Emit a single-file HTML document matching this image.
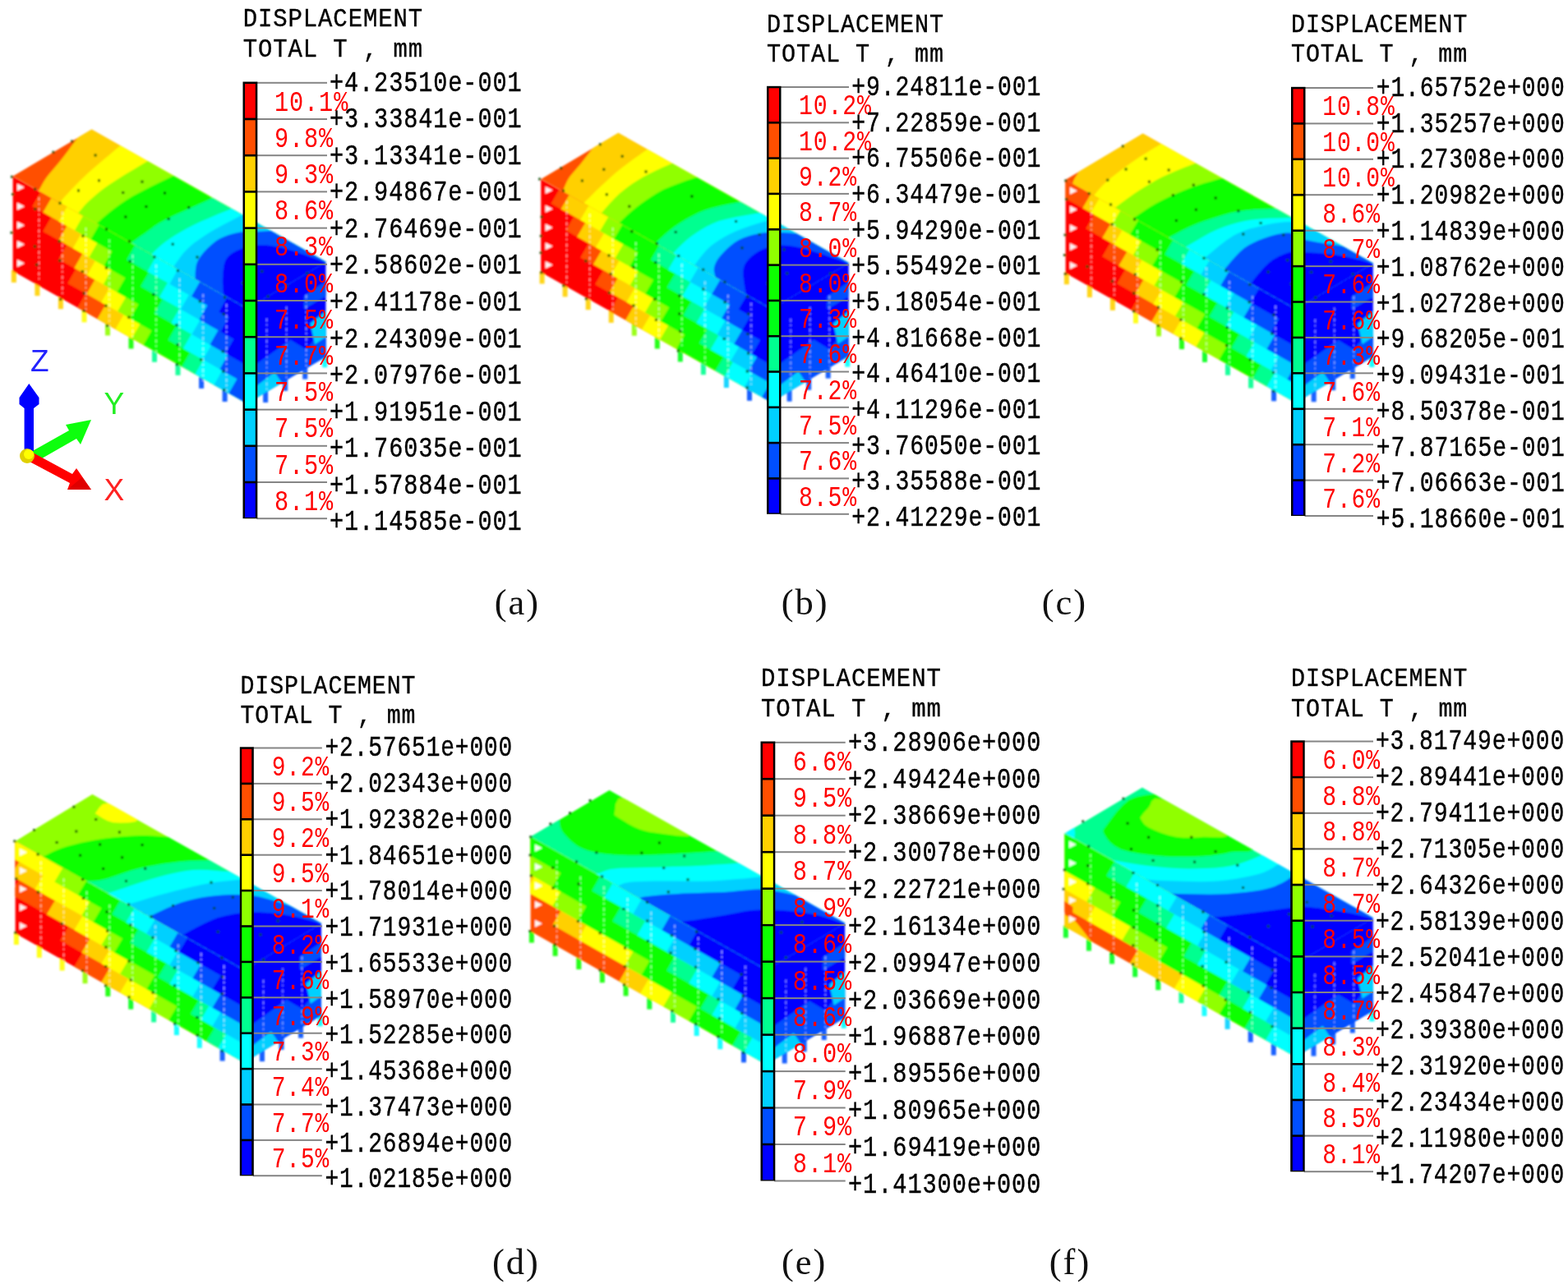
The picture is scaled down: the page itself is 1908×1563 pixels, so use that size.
<!DOCTYPE html>
<html lang="en"><head><meta charset="utf-8"><title>Displacement contours</title>
<style>html,body{margin:0;padding:0;background:#fff;}svg{display:block;}text{font-family:"Liberation Mono",monospace;white-space:pre;}text.s{font-family:"Liberation Serif","Times New Roman",serif;}text.a{font-family:"Liberation Sans",Arial,sans-serif;}</style></head><body>
<svg width="1908" height="1563" viewBox="0 0 1908 1563">
<rect width="1908" height="1563" fill="#fff"/>
<defs>
<filter id="bl" x="-5%" y="-5%" width="110%" height="110%"><feGaussianBlur stdDeviation="1.2"/></filter>
<filter id="bt" x="-5%" y="-5%" width="110%" height="110%"><feGaussianBlur stdDeviation="0.6"/></filter>
<clipPath id="ra"><polygon points="15.4,214.6 111.5,157.6 396.7,318.8 300.6,375.8"/></clipPath>
<clipPath id="fa"><polygon points="15.4,214.6 300.6,375.8 300.6,491.3 15.4,330.1"/></clipPath>
<clipPath id="ea"><polygon points="300.6,375.8 396.7,318.8 396.7,434.3 300.6,491.3"/></clipPath>
<clipPath id="rb"><polygon points="658.1,218 752.4,161.8 1032.8,320 938.5,376.2"/></clipPath>
<clipPath id="fb"><polygon points="658.1,218 938.5,376.2 938.5,489.8 658.1,331.6"/></clipPath>
<clipPath id="eb"><polygon points="938.5,376.2 1032.8,320 1032.8,433.6 938.5,489.8"/></clipPath>
<clipPath id="rc"><polygon points="1296.4,218.8 1390.7,162.6 1670.9,320.4 1576.6,376.6"/></clipPath>
<clipPath id="fc"><polygon points="1296.4,218.8 1576.6,376.6 1576.6,490.2 1296.4,332.4"/></clipPath>
<clipPath id="ec"><polygon points="1576.6,376.6 1670.9,320.4 1670.9,434 1576.6,490.2"/></clipPath>
<clipPath id="rd"><polygon points="18.4,1023.9 112.4,966.8 391,1124 297,1181.1"/></clipPath>
<clipPath id="fd"><polygon points="18.4,1023.9 297,1181.1 297,1293.4 18.4,1136.2"/></clipPath>
<clipPath id="ed"><polygon points="297,1181.1 391,1124 391,1236.3 297,1293.4"/></clipPath>
<clipPath id="re"><polygon points="645.4,1018.8 741.5,961.8 1028.3,1123.8 932.2,1180.8"/></clipPath>
<clipPath id="fe"><polygon points="645.4,1018.8 932.2,1180.8 932.2,1295.8 645.4,1133.8"/></clipPath>
<clipPath id="ee"><polygon points="932.2,1180.8 1028.3,1123.8 1028.3,1238.8 932.2,1295.8"/></clipPath>
<clipPath id="rf"><polygon points="1295.4,1014.6 1389.9,958.4 1670.9,1117.2 1576.4,1173.4"/></clipPath>
<clipPath id="ff"><polygon points="1295.4,1014.6 1576.4,1173.4 1576.4,1286.6 1295.4,1127.8"/></clipPath>
<clipPath id="ef"><polygon points="1576.4,1173.4 1670.9,1117.2 1670.9,1230.4 1576.4,1286.6"/></clipPath>
</defs>
<g id="bld-a" filter="url(#bl)">
<rect x="13.9" y="328.9" width="6" height="15" fill="#ffd000" opacity="0.9"/>
<rect x="42.4" y="345.1" width="6" height="15" fill="#ffd000" opacity="0.9"/>
<rect x="70.9" y="361.2" width="6" height="15" fill="#ffd000" opacity="0.9"/>
<rect x="99.5" y="377.3" width="6" height="15" fill="#ffff00" opacity="0.9"/>
<rect x="128" y="393.4" width="6" height="15" fill="#90ff00" opacity="0.9"/>
<rect x="156.5" y="409.5" width="6" height="15" fill="#10ff00" opacity="0.9"/>
<rect x="185" y="425.7" width="6" height="15" fill="#00ff90" opacity="0.9"/>
<rect x="213.5" y="441.8" width="6" height="15" fill="#00ff90" opacity="0.9"/>
<rect x="242.1" y="457.9" width="6" height="15" fill="#0050ff" opacity="0.9"/>
<rect x="270.6" y="474" width="6" height="15" fill="#0050ff" opacity="0.9"/>
<rect x="299.1" y="490.1" width="6" height="15" fill="#0050ff" opacity="0.9"/>
<rect x="320.1" y="475" width="6" height="15" fill="#0050ff" opacity="0.9"/>
<rect x="344.1" y="460.8" width="6" height="15" fill="#0050ff" opacity="0.9"/>
<rect x="368.2" y="446.6" width="6" height="15" fill="#0050ff" opacity="0.9"/>
<rect x="392.2" y="432.3" width="6" height="15" fill="#00ffff" opacity="0.9"/>
<g clip-path="url(#ra)">
<polygon points="15.4,214.6 111.5,157.6 396.7,318.8 300.6,375.8" fill="#ff5000"/>
<polygon points="98.7,162.1 93.9,168.5 91.1,172.3 87.1,177.6 82.6,183.8 77.9,189.9 73.8,195.3 70.1,199.8 66.5,204 63.1,208 59.9,211.8 57,215.5 54.4,219.3 52,223.2 50,226.9 48.3,230 47,232.2 43.1,239.2 43.1,405.8 476.7,405.8 476.7,97.6 98.7,97.6" fill="#ffd000"/>
<polygon points="152,172.6 145.9,177.7 140.4,182.3 132.5,188.9 123.5,196.4 114.7,203.9 107.3,210.4 101.5,215.9 96.3,220.9 91.7,225.7 87.6,230 83.9,233.9 80.6,237.4 77.8,240.6 75.4,243.4 73.5,245.6 72.1,247.3 66.9,253.4 66.9,405.8 476.7,405.8 476.7,97.6 152,97.6" fill="#ffff00"/>
<polygon points="186.4,192.1 179.5,196.2 173,200.1 163.7,205.7 153,212 142.7,218.4 134.2,223.9 127.7,228.5 122.1,232.7 117.3,236.7 113,240.4 109,244 105.4,247.6 102.1,251.1 99.4,254.4 97.2,257.1 95.6,259.1 90.5,265.3 90.5,415.3 476.7,415.3 476.7,97.6 186.4,97.6" fill="#90ff00"/>
<polygon points="218.5,210.3 211.3,213.8 204.1,217.3 193.8,222.3 182,228.1 170.5,233.9 161,239 153.7,243.5 147.4,247.7 141.9,251.8 137,255.6 132.5,259.1 128.4,262.4 124.8,265.6 121.7,268.4 119.2,270.8 117.4,272.5 111.5,278 111.5,428 476.7,428 476.7,97.6 218.5,97.6" fill="#10ff00"/>
<polygon points="267.3,237.3 260,240.6 251.5,244.4 239.1,249.9 225.2,256.2 211.8,262.3 201.3,267.5 194,271.6 188.4,275.1 184,278.4 180.1,281.3 176.1,284.2 171.9,287.1 168,289.8 164.4,292.4 161.5,294.5 159.3,296 152.8,300.6 152.8,450.6 476.7,450.6 476.7,97.6 267.3,97.6" fill="#00ff90"/>
<polygon points="289.2,250.9 281.8,254 275.2,256.7 265.7,260.6 254.9,265.2 244.1,269.8 234.8,274.2 227,278.3 219.6,282.5 212.8,286.6 206.7,290.6 201.3,294.3 196.6,297.9 192.6,301.4 189.2,304.7 186.5,307.4 184.5,309.4 178.8,315 178.8,465 476.7,465 476.7,97.6 289.2,97.6" fill="#00ffff"/>
<polygon points="303.1,257.3 296,261 290.1,264.1 281.6,268.5 271.9,273.6 262.3,278.8 254.2,283.5 247.7,287.7 241.9,291.7 236.6,295.6 231.8,299.6 227.3,303.7 223,308.3 219.1,313.4 215.6,318.3 212.7,322.5 210.6,325.5 206,332 206,482 476.7,482 476.7,97.6 303.1,97.6" fill="#00d0ff"/>
<polygon points="338,280.6 330,281 327.8,281.1 324.8,281.3 321.1,281.4 317.1,281.7 312.9,281.9 308.4,282 303.4,282.1 298.2,282.2 292.9,282.6 287.7,283.5 282.6,284.8 277.5,286.3 272.4,288.2 267.4,290.6 262.6,293.6 257.7,297.5 252.8,302.1 248,307.1 243.9,312.2 240.8,317.1 238.9,322.1 238,327.4 237.6,332.5 237.6,336.9 237.4,340 237,348 237,498 476.7,498 476.7,97.6 338,97.6" fill="#0050ff"/>
<polygon points="399.5,320.7 392,318 385.4,315.6 375.9,312.1 365,308.3 354.2,304.6 345,302 337.5,300.4 330.8,299.2 324.5,298.6 318.6,298.4 312.9,298.6 307.2,299.2 301.8,300.3 296.6,301.8 291.9,303.5 287.7,305.3 284.1,307.2 281,309.2 278.4,311.4 276.2,314 274.3,317.1 272.9,320.9 272,325.2 271.5,329.9 271.1,334.6 270.9,338.9 270.8,343.2 271,347.7 271.3,351.9 271.6,355.4 271.8,358 272.4,366 272.4,516 476.7,516 476.7,97.6 399.5,97.6" fill="#0000ff"/>
</g>
<g clip-path="url(#fa)">
<polygon points="15.4,214.6 300.6,375.8 300.6,491.3 15.4,330.1" fill="#ff0000"/>
<polygon points="52.4,227.8 49.4,233.8 39.4,251.3 62.4,264.3 52.4,281.7 81.4,298.1 71.4,315.6 92.4,327.4 82.4,344.9 104.4,357.3 94.4,374.8 91.4,380.8 360.6,580.8 360.6,114.6 52.4,114.6" fill="#ff5000"/>
<polygon points="65.4,235.2 62.4,241.2 52.4,258.6 81.4,275 71.4,292.5 100.4,308.8 90.4,326.3 115.4,340.4 105.4,357.9 128.4,370.9 118.4,388.3 115.4,394.3 360.6,594.3 360.6,114.6 65.4,114.6" fill="#ffd000"/>
<polygon points="84.4,245.9 81.4,251.9 71.4,269.4 98.7,284.8 88.7,302.2 115.9,317.6 105.9,335.1 133.2,350.5 123.2,367.9 150.4,383.3 140.4,400.8 137.4,406.8 360.6,606.8 360.6,114.6 84.4,114.6" fill="#ffff00"/>
<polygon points="104,257 101,263 91,280.4 118.3,295.9 108.3,313.3 135.7,328.8 125.7,346.2 153.1,361.7 143.1,379.1 170.4,394.6 160.4,412.1 157.4,418.1 360.6,618.1 360.6,114.6 104,114.6" fill="#90ff00"/>
<polygon points="123.4,267.9 120.4,273.9 110.4,291.4 136.4,306.1 126.4,323.5 152.4,338.2 142.4,355.7 168.4,370.4 158.4,387.8 184.4,402.5 174.4,420 171.4,426 360.6,626 360.6,114.6 123.4,114.6" fill="#10ff00"/>
<polygon points="167.4,292.8 164.4,298.8 154.4,316.3 181.2,331.4 171.2,348.8 197.9,364 187.9,381.4 214.7,396.5 204.7,414 231.4,429.1 221.4,446.5 218.4,452.5 360.6,652.5 360.6,114.6 167.4,114.6" fill="#00ff90"/>
<polygon points="192.4,306.9 189.4,312.9 179.4,330.4 203.9,344.2 193.9,361.7 218.4,375.5 208.4,393 232.9,406.8 222.9,424.3 247.4,438.1 237.4,455.6 234.4,461.6 360.6,661.6 360.6,114.6 192.4,114.6" fill="#00ffff"/>
<polygon points="219.4,322.2 216.4,328.2 206.4,345.7 229.9,358.9 219.9,376.4 243.4,389.7 233.4,407.1 256.9,420.4 246.9,437.8 270.4,451.1 260.4,468.6 257.4,474.6 360.6,674.6 360.6,114.6 219.4,114.6" fill="#00d0ff"/>
<polygon points="246,337.2 243,343.2 233,360.7 252.4,371.7 242.4,389.1 265.4,402.1 255.4,419.6 277.4,432 267.4,449.4 288.4,461.3 278.4,478.8 275.4,484.8 360.6,684.8 360.6,114.6 246,114.6" fill="#0050ff"/>
<polygon points="279.4,356.1 276.4,362.1 266.4,379.6 278.4,386.4 268.4,403.8 284.4,412.8 274.4,430.3 310.4,450.6 300.4,468.1 420.4,535.9 410.4,553.4 407.4,559.4 360.6,759.4 360.6,114.6 279.4,114.6" fill="#0000ff"/>
</g>
<g clip-path="url(#ea)">
<polygon points="300.6,375.8 396.7,318.8 396.7,434.3 300.6,491.3" fill="#0000ff"/>
<polygon points="291,457.7 353.5,413.8 372.7,425.5 406.3,384.7 406.3,440.2 291,508.5" fill="#0050ff"/>
<polygon points="369.8,360.2 406.3,336.2 406.3,354.7 369.8,376.3" fill="#0050ff"/>
<polygon points="291,485.4 334.2,452.9 348.6,474.3 291,508.5" fill="#00d0ff"/>
<polygon points="377.5,393.7 406.3,370.9 406.3,403.2 383.2,419.2" fill="#00d0ff"/>
</g>
<path d="M47.4 240.3v102.7M75.9 257.8v102.4M104.5 277.3v104.1M133 291.5v107.3M161.5 310.3v102.6M190 322.2v107.1M218.5 338.9v103.5M247.1 358.1v106M275.6 370.1v106" stroke="#fff" stroke-width="1.5" stroke-dasharray="4 3 2 4" fill="none" opacity="0.62"/>
<path d="M324.6 387.5v87.5M348.6 373.3v87.5M372.7 359.1v87.5" stroke="#fff" stroke-width="1.4" stroke-dasharray="4 3 2 4" fill="none" opacity="0.55"/>
<path d="M20.9 223.6l9 4.5l-9 4.5zM20.9 246.7l9 4.5l-9 4.5zM20.9 269.8l9 4.5l-9 4.5zM20.9 292.9l9 4.5l-9 4.5zM20.9 316l9 4.5l-9 4.5z" fill="#fff" opacity="0.95"/>
<path d="M13 213.7h3v3h-3zM14 235h3v3h-3zM12.6 281.8h3v3h-3zM63.4 183.8h3v3h-3zM86.2 170.4h3v3h-3zM41.2 228.8h3v3h-3zM41.3 253.1h3v3h-3zM40.9 298.4h3v3h-3zM43.2 320.7h3v3h-3zM114.6 187.5h3v3h-3zM71.5 245.8h3v3h-3zM70.7 292.2h3v3h-3zM71.3 315.7h3v3h-3zM72.1 362.9h3v3h-3zM94 230.5h3v3h-3zM119 218.3h3v3h-3zM99.4 285.7h3v3h-3zM98.8 329h3v3h-3zM100.7 355.6h3v3h-3zM100.6 376.9h3v3h-3zM148.2 233h3v3h-3zM171.5 219.8h3v3h-3zM128 277.4h3v3h-3zM127.9 324.6h3v3h-3zM127.4 370.8h3v3h-3zM129.2 395h3v3h-3zM151.3 262.4h3v3h-3zM176.4 249.9h3v3h-3zM199 233.5h3v3h-3zM155.9 292.3h3v3h-3zM156.7 316.7h3v3h-3zM155.4 384.7h3v3h-3zM203.7 264.9h3v3h-3zM228.2 251.1h3v3h-3zM186.4 311.2h3v3h-3zM185.3 356.9h3v3h-3zM208.7 295.7h3v3h-3zM214.9 328.1h3v3h-3zM213.5 394.3h3v3h-3zM214.8 418.2h3v3h-3zM213.9 442.2h3v3h-3zM238.5 311.4h3v3h-3zM241.8 365.2h3v3h-3zM243.3 436.2h3v3h-3zM272 360.4h3v3h-3zM270.7 380.7h3v3h-3zM269.7 426.2h3v3h-3zM270.3 450.5h3v3h-3zM271.3 473.2h3v3h-3zM293.9 342.9h3v3h-3zM317.3 328.8h3v3h-3zM299.3 373.6h3v3h-3zM300.4 399.1h3v3h-3zM299.2 421.5h3v3h-3zM299.5 489.3h3v3h-3zM324.6 359.2h3v3h-3zM347.3 346.1h3v3h-3zM372.3 331.3h3v3h-3z" fill="#064a06" opacity="0.9"/>
</g>
<g id="bld-b" filter="url(#bl)">
<rect x="656.6" y="330.4" width="6" height="15" fill="#ffd000" opacity="0.9"/>
<rect x="684.6" y="346.3" width="6" height="15" fill="#ffd000" opacity="0.9"/>
<rect x="712.7" y="362.1" width="6" height="15" fill="#ffd000" opacity="0.9"/>
<rect x="740.7" y="377.9" width="6" height="15" fill="#ffd000" opacity="0.9"/>
<rect x="768.8" y="393.7" width="6" height="15" fill="#90ff00" opacity="0.9"/>
<rect x="796.8" y="409.5" width="6" height="15" fill="#10ff00" opacity="0.9"/>
<rect x="824.8" y="425.4" width="6" height="15" fill="#00ff18" opacity="0.9"/>
<rect x="852.9" y="441.2" width="6" height="15" fill="#00ff90" opacity="0.9"/>
<rect x="880.9" y="457" width="6" height="15" fill="#00d0ff" opacity="0.9"/>
<rect x="909" y="472.8" width="6" height="15" fill="#0050ff" opacity="0.9"/>
<rect x="937" y="488.6" width="6" height="15" fill="#0050ff" opacity="0.9"/>
<rect x="957.6" y="473.7" width="6" height="15" fill="#0050ff" opacity="0.9"/>
<rect x="981.2" y="459.7" width="6" height="15" fill="#0050ff" opacity="0.9"/>
<rect x="1004.7" y="445.6" width="6" height="15" fill="#0050ff" opacity="0.9"/>
<rect x="1028.3" y="431.6" width="6" height="15" fill="#00ffff" opacity="0.9"/>
<g clip-path="url(#rb)">
<polygon points="658.1,218 752.4,161.8 1032.8,320 938.5,376.2" fill="#ff5000"/>
<polygon points="727.1,173.1 722.2,179.4 720.1,182 717.2,185.8 713.9,190.1 710.4,194.6 707.1,198.7 704,202.5 700.7,206.2 697.5,209.9 694.5,213.5 692,217.1 689.9,220.8 688.1,224.7 686.5,228.5 685.3,231.6 684.4,233.9 681.4,241.3 681.4,406.2 1112.8,406.2 1112.8,101.8 727.1,101.8" fill="#ffd000"/>
<polygon points="794.1,177.3 787.6,181.9 783.4,184.8 777.5,189 770.7,193.8 763.7,198.9 757.4,203.7 751.7,208.3 746.1,213.1 740.7,218 735.5,222.7 730.6,227.2 725.8,231.8 721.1,236.4 716.7,240.9 713,244.6 710.4,247.3 704.8,253 704.8,406.2 1112.8,406.2 1112.8,101.8 794.1,101.8" fill="#ffff00"/>
<polygon points="825.1,195.4 817.8,198.7 812.9,200.9 805.9,204.1 797.9,207.7 789.8,211.7 782.6,215.5 776.4,219.2 770.4,223.1 764.7,227 759.3,231.2 754,235.6 748.6,240.7 743.1,246.5 738,252.3 733.7,257.3 730.6,260.8 725.3,266.8 725.3,416.8 1112.8,416.8 1112.8,101.8 825.1,101.8" fill="#90ff00"/>
<polygon points="855.6,212.9 848,215.5 842.4,217.4 834.5,220.1 825.3,223.4 816,226.9 807.7,230.6 800.4,234.6 793.2,238.9 786.4,243.5 780,248 774.2,252.4 768.7,256.9 763.6,261.5 759,266 755.2,269.8 752.4,272.5 746.7,278.1 746.7,428.1 1112.8,428.1 1112.8,101.8 855.6,101.8" fill="#10ff00"/>
<polygon points="909.4,244.1 901.6,245.7 895.6,246.9 887,248.5 877.1,250.5 867,252.9 858,255.7 850,259 842.2,262.9 834.7,267.1 827.6,271.5 821.1,275.8 814.9,280.4 809,285.5 803.7,290.4 799.2,294.7 796,297.7 790.1,303.2 790.1,453.2 1112.8,453.2 1112.8,101.8 909.4,101.8" fill="#00ff90"/>
<polygon points="933,257.7 925.1,259.1 918,260.3 907.8,262 896.1,264 884.6,266.4 874.8,269.1 866.9,272.2 859.7,275.7 853.2,279.6 847.1,283.6 841.3,287.6 835.6,292.1 830.1,297.1 825,302.1 820.8,306.4 817.8,309.4 812.1,315 812.1,465 1112.8,465 1112.8,101.8 933,101.8" fill="#00ffff"/>
<polygon points="941.6,266 934,268.4 928.4,270.2 920.5,272.6 911.3,275.5 902.2,278.7 894.2,281.9 887.4,285.2 880.9,288.7 874.8,292.4 869.2,296.3 864,300.3 859.2,304.9 854.7,310.2 850.7,315.3 847.4,319.8 845,323 840.2,329.4 840.2,479.4 1112.8,479.4 1112.8,101.8 941.6,101.8" fill="#00d0ff"/>
<polygon points="974,284.6 966,284 963.8,283.8 960.6,283.6 956.9,283.3 952.9,283.1 949,283 945.1,282.9 941.1,282.7 936.9,282.7 932.5,282.9 927.7,283.5 922.4,284.5 916.5,285.8 910.5,287.4 904.6,289.4 899.2,291.9 894.2,295 889.4,298.7 884.8,302.8 880.8,306.8 877.4,310.4 874.7,313.7 872.6,316.8 871,319.8 869.8,322.7 869,325.5 868.7,328.4 869,331.3 869.7,334 870.3,336.3 870.7,338 872.5,345.8 872.5,495.8 1112.8,495.8 1112.8,101.8 974,101.8" fill="#0050ff"/>
<polygon points="1035.6,321.6 1028,319 1021.2,316.6 1011.4,313.2 1000.2,309.3 989.2,305.7 980,303 972.6,301.2 966.1,299.9 960.2,299.1 954.8,298.7 949.5,298.6 944.5,298.9 939.9,299.6 935.6,300.7 931.6,302.1 927.7,303.7 923.9,305.6 920.1,307.7 916.7,310.2 913.5,312.7 910.9,315.4 908.8,318 907,320.6 905.7,323.3 904.7,326.6 904.2,330.5 904.3,335.8 905,342.3 906,349 907,354.9 907.6,359 908.8,366.9 908.8,516.9 1112.8,516.9 1112.8,101.8 1035.6,101.8" fill="#0000ff"/>
</g>
<g clip-path="url(#fb)">
<polygon points="658.1,218 938.5,376.2 938.5,489.8 658.1,331.6" fill="#ff0000"/>
<polygon points="683.7,224.8 680.7,230.8 670.7,247.8 698.6,263.5 688.6,280.6 716.4,296.3 706.4,313.4 734.2,329.1 724.2,346.2 752.1,361.9 742.1,379 739.1,385 998.5,585 998.5,118 683.7,118" fill="#ff5000"/>
<polygon points="695.6,231.5 692.6,237.5 682.6,254.5 712.2,271.3 702.2,288.3 731.9,305 721.9,322.1 751.5,338.8 741.5,355.9 771.1,372.6 761.1,389.7 758.1,395.7 998.5,595.7 998.5,118 695.6,118" fill="#ffd000"/>
<polygon points="719.1,244.7 716.1,250.7 706.1,267.8 734.9,284 724.9,301.1 753.6,317.3 743.6,334.4 772.4,350.6 762.4,367.7 791.1,383.9 781.1,401 778.1,407 998.5,607 998.5,118 719.1,118" fill="#ffff00"/>
<polygon points="743.1,258.3 740.1,264.3 730.1,281.3 758.4,297.3 748.4,314.4 776.6,330.3 766.6,347.4 794.9,363.3 784.9,380.4 813.1,396.3 803.1,413.4 800.1,419.4 998.5,619.4 998.5,118 743.1,118" fill="#90ff00"/>
<polygon points="760.1,267.9 757.1,273.9 747.1,290.9 776.1,307.3 766.1,324.4 795.1,340.7 785.1,357.8 814.1,374.2 804.1,391.3 833.1,407.6 823.1,424.7 820.1,430.7 998.5,630.7 998.5,118 760.1,118" fill="#10ff00"/>
<polygon points="805.1,293.2 802.1,299.2 792.1,316.3 821.7,333 811.7,350.1 841.4,366.8 831.4,383.9 861,400.6 851,417.7 880.6,434.4 870.6,451.5 867.6,457.5 998.5,657.5 998.5,118 805.1,118" fill="#00ff90"/>
<polygon points="826.1,305.1 823.1,311.1 813.1,328.2 840.3,343.5 830.3,360.6 857.5,375.9 847.5,393 874.6,408.3 864.6,425.4 891.8,440.7 881.8,457.8 878.8,463.8 998.5,663.8 998.5,118 826.1,118" fill="#00ffff"/>
<polygon points="852.6,320 849.6,326 839.6,343.1 866.1,358.1 856.1,375.2 882.7,390.1 872.7,407.2 899.2,422.2 889.2,439.3 915.7,454.2 905.7,471.3 902.7,477.3 998.5,677.3 998.5,118 852.6,118" fill="#00d0ff"/>
<polygon points="879.1,335 876.1,341 866.1,358.1 888.1,370.5 878.1,387.6 903.1,401.7 893.1,418.7 921.1,434.5 911.1,451.6 937.1,466.3 927.1,483.4 924.1,489.4 998.5,689.4 998.5,118 879.1,118" fill="#0050ff"/>
<polygon points="911.7,353.4 908.7,359.4 898.7,376.5 913.1,384.6 903.1,401.7 925.1,414.1 915.1,431.2 948.1,449.8 938.1,466.9 1063.1,537.4 1053.1,554.5 1050.1,560.5 998.5,760.5 998.5,118 911.7,118" fill="#0000ff"/>
</g>
<g clip-path="url(#eb)">
<polygon points="938.5,376.2 1032.8,320 1032.8,433.6 938.5,489.8" fill="#0000ff"/>
<polygon points="929.1,456.8 990.4,413.4 1009.2,424.9 1042.2,384.8 1042.2,439.3 929.1,506.8" fill="#0050ff"/>
<polygon points="1006.4,360.7 1042.2,337.1 1042.2,355.3 1006.4,376.6" fill="#0050ff"/>
<polygon points="929.1,484.1 971.5,452 985.7,473.1 929.1,506.8" fill="#00d0ff"/>
<polygon points="1013.9,393.7 1042.2,371.2 1042.2,403 1019.6,418.7" fill="#00d0ff"/>
</g>
<path d="M689.6 244.6v100.6M717.7 260.4v105.2M745.7 277.2v101.2M773.8 294.7v105.2M801.8 309.1v104.4M829.8 321.2v99.7M857.9 342.4v103.4M885.9 358.7v100.9M914 368.4v103.3" stroke="#fff" stroke-width="1.5" stroke-dasharray="4 3 2 4" fill="none" opacity="0.62"/>
<path d="M962.1 388.1v85.6M985.7 374.1v85.6M1009.2 360.1v85.6" stroke="#fff" stroke-width="1.4" stroke-dasharray="4 3 2 4" fill="none" opacity="0.55"/>
<path d="M663.6 227l9 4.5l-9 4.5zM663.6 249.7l9 4.5l-9 4.5zM663.6 272.4l9 4.5l-9 4.5zM663.6 295.2l9 4.5l-9 4.5zM663.6 317.9l9 4.5l-9 4.5z" fill="#fff" opacity="0.95"/>
<path d="M655.2 216.5h3v3h-3zM657.6 262.6h3v3h-3zM656.8 285.7h3v3h-3zM656.6 306.3h3v3h-3zM657.2 330.2h3v3h-3zM681.3 203.3h3v3h-3zM728.8 174.3h3v3h-3zM684 230.7h3v3h-3zM684.3 346.2h3v3h-3zM706.9 218.4h3v3h-3zM733.3 204.8h3v3h-3zM755.7 188.8h3v3h-3zM711.3 316.2h3v3h-3zM711.8 362.3h3v3h-3zM736.8 235.3h3v3h-3zM784.5 207.4h3v3h-3zM739.5 309.5h3v3h-3zM741.8 331.9h3v3h-3zM739.9 354.9h3v3h-3zM764.3 249.8h3v3h-3zM767.3 280.2h3v3h-3zM769.3 324.1h3v3h-3zM769.5 370.6h3v3h-3zM840.4 237.6h3v3h-3zM797.8 295h3v3h-3zM796.2 318h3v3h-3zM795.3 362.8h3v3h-3zM796.9 387.9h3v3h-3zM820.7 281h3v3h-3zM824.2 310h3v3h-3zM825.4 358.5h3v3h-3zM825.3 380.5h3v3h-3zM826.3 401.7h3v3h-3zM823.8 425.4h3v3h-3zM894.1 268h3v3h-3zM854.2 326.8h3v3h-3zM854.3 350.6h3v3h-3zM901.5 300.3h3v3h-3zM922.7 284h3v3h-3zM880.4 341.8h3v3h-3zM880.6 366.2h3v3h-3zM879.6 410.9h3v3h-3zM952.6 302.2h3v3h-3zM908.2 359.8h3v3h-3zM909.2 380.4h3v3h-3zM908.4 405.1h3v3h-3zM909 428.4h3v3h-3zM907.8 450.5h3v3h-3zM907.7 470.4h3v3h-3zM932.6 343.6h3v3h-3zM956.3 331.3h3v3h-3zM936.7 374.2h3v3h-3zM937 397.1h3v3h-3zM936.1 443.4h3v3h-3zM1008.9 331.4h3v3h-3z" fill="#064a06" opacity="0.9"/>
</g>
<g id="bld-c" filter="url(#bl)">
<rect x="1294.9" y="331.2" width="6" height="15" fill="#ffd000" opacity="0.9"/>
<rect x="1322.9" y="347" width="6" height="15" fill="#ffd000" opacity="0.9"/>
<rect x="1350.9" y="362.8" width="6" height="15" fill="#ffd000" opacity="0.9"/>
<rect x="1379" y="378.6" width="6" height="15" fill="#ffff00" opacity="0.9"/>
<rect x="1407" y="394.4" width="6" height="15" fill="#90ff00" opacity="0.9"/>
<rect x="1435" y="410.1" width="6" height="15" fill="#10ff00" opacity="0.9"/>
<rect x="1463" y="425.9" width="6" height="15" fill="#00ff18" opacity="0.9"/>
<rect x="1491" y="441.7" width="6" height="15" fill="#00ff90" opacity="0.9"/>
<rect x="1519.1" y="457.5" width="6" height="15" fill="#00ff90" opacity="0.9"/>
<rect x="1547.1" y="473.3" width="6" height="15" fill="#0050ff" opacity="0.9"/>
<rect x="1575.1" y="489" width="6" height="15" fill="#0050ff" opacity="0.9"/>
<rect x="1595.7" y="474.2" width="6" height="15" fill="#0050ff" opacity="0.9"/>
<rect x="1619.2" y="460.1" width="6" height="15" fill="#0050ff" opacity="0.9"/>
<rect x="1642.8" y="446.1" width="6" height="15" fill="#0050ff" opacity="0.9"/>
<rect x="1666.4" y="432" width="6" height="15" fill="#00ffff" opacity="0.9"/>
<g clip-path="url(#rc)">
<polygon points="1296.4,218.8 1390.7,162.6 1670.9,320.4 1576.6,376.6" fill="#ff5000"/>
<polygon points="1317.8,201.1 1313.5,207.9 1312.5,209.5 1311.1,211.7 1309.4,214.3 1307.9,216.8 1306.8,218.8 1306.1,220.4 1305.7,221.7 1305.5,222.9 1305.3,223.8 1305.2,224.5 1303.7,232.3 1303.7,406.6 1750.9,406.6 1750.9,102.6 1317.8,102.6" fill="#ffd000"/>
<polygon points="1419.3,171 1412.5,175.2 1408.2,177.9 1402.1,181.5 1395,185.9 1387.6,190.6 1380.6,195.3 1373.7,200.1 1366.5,205.3 1359.4,210.7 1352.8,215.8 1347.1,220.5 1342.4,224.9 1338.4,229.3 1335,233.3 1332.3,236.6 1330.3,239 1325.2,245.1 1325.2,406.6 1750.9,406.6 1750.9,102.6 1419.3,102.6" fill="#ffff00"/>
<polygon points="1461.8,195.7 1454.4,198.7 1448.8,200.9 1440.9,204.1 1431.7,207.7 1422.5,211.7 1414.2,215.5 1406.9,219.3 1399.9,223.4 1393.1,227.5 1386.7,231.6 1380.6,235.6 1374.6,239.7 1368.7,244 1363.3,248 1358.8,251.5 1355.5,254 1349.1,258.8 1349.1,408.8 1750.9,408.8 1750.9,102.6 1461.8,102.6" fill="#90ff00"/>
<polygon points="1494,214.9 1486.3,217.1 1481.1,218.6 1473.7,220.7 1465.1,223.1 1456.1,225.9 1447.7,228.9 1439.6,232.2 1431.2,235.8 1422.8,239.6 1414.8,243.5 1407.5,247.3 1400.6,251.3 1393.9,255.6 1387.7,259.7 1382.6,263.3 1378.9,265.8 1372.3,270.3 1372.3,420.3 1750.9,420.3 1750.9,102.6 1494,102.6" fill="#10ff00"/>
<polygon points="1559.7,253.6 1551.7,254 1545.6,254.3 1537.1,254.6 1527.1,255 1516.5,255.9 1506.4,257.4 1496.4,259.6 1486,262.4 1475.5,265.7 1465.4,269.1 1456.1,272.5 1447.3,276.3 1438.6,280.5 1430.7,284.7 1424,288.3 1419.2,290.9 1412.1,294.7 1412.1,444.7 1750.9,444.7 1750.9,102.6 1559.7,102.6" fill="#00ff90"/>
<polygon points="1579,264.8 1571,265 1564.4,265.2 1555,265.4 1544.2,265.7 1533.1,266.4 1523.2,267.5 1514.4,269.1 1506,271 1497.8,273.2 1489.6,276 1481.3,279.2 1472.2,283.5 1462.5,288.9 1453.1,294.4 1445,299.3 1439.3,302.7 1432.4,306.8 1432.4,456.8 1750.9,456.8 1750.9,102.6 1579,102.6" fill="#00ffff"/>
<polygon points="1597.4,279.5 1590,276.5 1587.4,275.4 1583.9,273.8 1579.7,272.1 1574.8,270.7 1569.4,270.1 1563.3,270.3 1556.3,271 1548.9,272.1 1541.4,273.6 1534.2,275.2 1527.4,276.9 1520.7,278.6 1514.1,280.8 1507.4,283.4 1500.6,286.9 1493.1,291.9 1484.9,298.2 1477,304.7 1470.2,310.6 1465.4,314.6 1459.3,319.7 1459.3,469.7 1750.9,469.7 1750.9,102.6 1597.4,102.6" fill="#00d0ff"/>
<polygon points="1637.9,300.2 1630,299 1623.9,298.1 1615,296.8 1605,295.2 1595.4,293.6 1587.8,292 1582.7,290.2 1579.1,288.1 1576.2,286 1573.2,284.4 1569.4,283.5 1564.6,283.5 1559.4,284.2 1553.9,285.3 1548.2,286.8 1542.6,288.6 1536.9,290.6 1531,292.8 1525.2,295.4 1519.4,298.4 1514,302 1508.6,306.7 1503.1,312.4 1498,318.2 1493.7,323.4 1490.6,327 1485.4,333.1 1485.4,483.1 1750.9,483.1 1750.9,102.6 1637.9,102.6" fill="#0050ff"/>
<polygon points="1675.8,322 1668,320 1662.9,318.7 1655.7,316.8 1647.3,314.7 1638.5,312.6 1630,311 1621.4,309.8 1612.3,308.8 1603.2,308.1 1594.8,307.5 1587.8,307 1582.7,306.6 1578.9,306.2 1575.9,306.1 1572.9,306.3 1569.4,307 1565.2,308.3 1560.7,310 1556.1,312.1 1551.7,314.5 1547.6,317.1 1543.8,320.1 1540.2,323.5 1536.8,327.1 1533.6,330.7 1530.8,333.9 1528.2,337 1525.8,340 1523.8,342.9 1522.1,345.3 1520.8,347 1516.1,353.5 1516.1,503.5 1750.9,503.5 1750.9,102.6 1675.8,102.6" fill="#0000ff"/>
</g>
<g clip-path="url(#fc)">
<polygon points="1296.4,218.8 1576.6,376.6 1576.6,490.2 1296.4,332.4" fill="#ff0000"/>
<polygon points="1294.4,210 1291.4,216 1281.4,233.1 1331.4,261.2 1321.4,278.3 1351.4,295.2 1341.4,312.3 1369.4,328.1 1359.4,345.2 1386.4,360.4 1376.4,377.5 1373.4,383.5 1636.6,583.5 1636.6,118.8 1294.4,118.8" fill="#ff5000"/>
<polygon points="1330.4,230.3 1327.4,236.3 1317.4,253.3 1351.4,272.5 1341.4,289.6 1371.4,306.5 1361.4,323.6 1391.4,340.5 1381.4,357.5 1411.4,374.4 1401.4,391.5 1398.4,397.5 1636.6,597.5 1636.6,118.8 1330.4,118.8" fill="#ffd000"/>
<polygon points="1340.4,235.9 1337.4,241.9 1327.4,259 1365.4,280.4 1355.4,297.5 1389.4,316.6 1379.4,333.7 1413.4,352.9 1403.4,369.9 1437.4,389.1 1427.4,406.2 1424.4,412.2 1636.6,612.2 1636.6,118.8 1340.4,118.8" fill="#ffff00"/>
<polygon points="1366.4,250.5 1363.4,256.5 1353.4,273.6 1388.9,293.6 1378.9,310.7 1414.4,330.7 1404.4,347.8 1439.9,367.8 1429.9,384.9 1465.4,404.9 1455.4,421.9 1452.4,427.9 1636.6,627.9 1636.6,118.8 1366.4,118.8" fill="#90ff00"/>
<polygon points="1387.9,262.6 1384.9,268.6 1374.9,285.7 1412,306.6 1402,323.7 1439.2,344.6 1429.2,361.7 1466.3,382.6 1456.3,399.7 1493.4,420.6 1483.4,437.7 1480.4,443.7 1636.6,643.7 1636.6,118.8 1387.9,118.8" fill="#10ff00"/>
<polygon points="1430.4,286.6 1427.4,292.6 1417.4,309.7 1453.4,329.9 1443.4,347 1481.4,368.4 1471.4,385.5 1508.4,406.4 1498.4,423.4 1534.4,443.7 1524.4,460.8 1521.4,466.8 1636.6,666.8 1636.6,118.8 1430.4,118.8" fill="#00ff90"/>
<polygon points="1450.4,297.8 1447.4,303.8 1437.4,320.9 1473.4,341.2 1463.4,358.3 1501.4,379.7 1491.4,396.8 1526.4,416.5 1516.4,433.6 1551.4,453.3 1541.4,470.4 1538.4,476.4 1636.6,676.4 1636.6,118.8 1450.4,118.8" fill="#00ffff"/>
<polygon points="1474.4,311.4 1471.4,317.4 1461.4,334.4 1501.4,357 1491.4,374.1 1529.4,395.5 1519.4,412.5 1556.4,433.4 1546.4,450.5 1581.4,470.2 1571.4,487.3 1568.4,493.3 1636.6,693.3 1636.6,118.8 1474.4,118.8" fill="#00d0ff"/>
<polygon points="1498.2,324.8 1495.2,330.8 1485.2,347.8 1523.4,369.4 1513.4,386.4 1551.4,407.8 1541.4,424.9 1576.4,444.6 1566.4,461.7 1601.4,481.4 1591.4,498.5 1588.4,504.5 1636.6,704.5 1636.6,118.8 1498.2,118.8" fill="#0050ff"/>
<polygon points="1534.8,345.4 1531.8,351.4 1521.8,368.5 1556.4,387.9 1546.4,405 1586.4,427.6 1576.4,444.6 1621.4,470 1611.4,487.1 1701.4,537.8 1691.4,554.9 1688.4,560.9 1636.6,760.9 1636.6,118.8 1534.8,118.8" fill="#0000ff"/>
</g>
<g clip-path="url(#ec)">
<polygon points="1576.6,376.6 1670.9,320.4 1670.9,434 1576.6,490.2" fill="#0000ff"/>
<polygon points="1567.2,457.2 1628.5,413.9 1647.3,425.3 1680.3,385.2 1680.3,439.7 1567.2,507.2" fill="#0050ff"/>
<polygon points="1644.5,361.1 1680.3,337.5 1680.3,355.7 1644.5,377" fill="#0050ff"/>
<polygon points="1567.2,484.5 1609.6,452.4 1623.8,473.5 1567.2,507.2" fill="#00d0ff"/>
<polygon points="1652,394.1 1680.3,371.6 1680.3,403.4 1657.7,419.1" fill="#00d0ff"/>
</g>
<path d="M1327.9 245.8v104.4M1355.9 259.8v104.1M1384 280.2v104.1M1412 293v101.5M1440 310v100M1468 325.4v103.1M1496 342.1v104.3M1524.1 360.2v103.4M1552.1 371.9v101.5" stroke="#fff" stroke-width="1.5" stroke-dasharray="4 3 2 4" fill="none" opacity="0.62"/>
<path d="M1600.2 388.6v85.6M1623.8 374.5v85.6M1647.3 360.4v85.6" stroke="#fff" stroke-width="1.4" stroke-dasharray="4 3 2 4" fill="none" opacity="0.55"/>
<path d="M1301.9 227.8l9 4.5l-9 4.5zM1301.9 250.5l9 4.5l-9 4.5zM1301.9 273.2l9 4.5l-9 4.5zM1301.9 296l9 4.5l-9 4.5zM1301.9 318.7l9 4.5l-9 4.5z" fill="#fff" opacity="0.95"/>
<path d="M1295.4 218.6h3v3h-3zM1296.2 240.9h3v3h-3zM1294.6 284.6h3v3h-3zM1294 309.1h3v3h-3zM1294.8 332h3v3h-3zM1364.8 176.4h3v3h-3zM1323.8 233.9h3v3h-3zM1321.5 323.1h3v3h-3zM1346.3 217.8h3v3h-3zM1368.6 204.5h3v3h-3zM1392.7 191.8h3v3h-3zM1350.1 247.6h3v3h-3zM1351.7 271.6h3v3h-3zM1352 340.7h3v3h-3zM1396.9 219.7h3v3h-3zM1420.7 205.6h3v3h-3zM1379.1 265.6h3v3h-3zM1379.9 332.4h3v3h-3zM1378.3 355.4h3v3h-3zM1378.1 377.5h3v3h-3zM1425.9 236.2h3v3h-3zM1450.8 223.8h3v3h-3zM1406.8 302.5h3v3h-3zM1408.1 372.6h3v3h-3zM1407.9 395.1h3v3h-3zM1429.9 267.1h3v3h-3zM1453.9 253.7h3v3h-3zM1477.7 239.5h3v3h-3zM1436.3 341.6h3v3h-3zM1435.5 387.7h3v3h-3zM1435.5 410.4h3v3h-3zM1505.4 255.2h3v3h-3zM1463.5 312.8h3v3h-3zM1463.5 356.7h3v3h-3zM1511.3 283.4h3v3h-3zM1532.6 269.9h3v3h-3zM1490.5 328h3v3h-3zM1491.9 373.5h3v3h-3zM1491.8 397.1h3v3h-3zM1491.1 419.1h3v3h-3zM1560.3 284.4h3v3h-3zM1519.3 345.1h3v3h-3zM1518.7 366.2h3v3h-3zM1519.8 436.3h3v3h-3zM1541.7 329.4h3v3h-3zM1565.1 315.3h3v3h-3zM1548.4 381.8h3v3h-3zM1546.4 404.6h3v3h-3zM1548.1 452.1h3v3h-3zM1548.3 474.8h3v3h-3zM1569.7 344h3v3h-3zM1594.1 329.8h3v3h-3zM1617.8 316.7h3v3h-3zM1575.5 421h3v3h-3zM1574.1 443h3v3h-3zM1573.7 464.7h3v3h-3zM1575.9 488.1h3v3h-3zM1599.3 360.8h3v3h-3zM1644.8 332.3h3v3h-3z" fill="#064a06" opacity="0.9"/>
</g>
<g id="bld-d" filter="url(#bl)">
<rect x="16.9" y="1135" width="6" height="15" fill="#ffff00" opacity="0.9"/>
<rect x="44.8" y="1150.8" width="6" height="15" fill="#ffff00" opacity="0.9"/>
<rect x="72.6" y="1166.5" width="6" height="15" fill="#ffff00" opacity="0.9"/>
<rect x="100.5" y="1182.2" width="6" height="15" fill="#90ff00" opacity="0.9"/>
<rect x="128.3" y="1197.9" width="6" height="15" fill="#10ff00" opacity="0.9"/>
<rect x="156.2" y="1213.6" width="6" height="15" fill="#00ff18" opacity="0.9"/>
<rect x="184.1" y="1229.4" width="6" height="15" fill="#00ff90" opacity="0.9"/>
<rect x="211.9" y="1245.1" width="6" height="15" fill="#00ffff" opacity="0.9"/>
<rect x="239.8" y="1260.8" width="6" height="15" fill="#00ffff" opacity="0.9"/>
<rect x="267.6" y="1276.5" width="6" height="15" fill="#0050ff" opacity="0.9"/>
<rect x="295.5" y="1292.2" width="6" height="15" fill="#0050ff" opacity="0.9"/>
<rect x="316" y="1277.1" width="6" height="15" fill="#0050ff" opacity="0.9"/>
<rect x="339.5" y="1262.8" width="6" height="15" fill="#0050ff" opacity="0.9"/>
<rect x="363" y="1248.6" width="6" height="15" fill="#0050ff" opacity="0.9"/>
<rect x="386.5" y="1234.3" width="6" height="15" fill="#00ffff" opacity="0.9"/>
<g clip-path="url(#rd)">
<polygon points="18.4,1023.9 112.4,966.8 391,1124 297,1181.1" fill="#90ff00"/>
<polygon points="115.7,990.3 117.9,987.3 120.9,982.7 125.1,978.8 130.8,977.7 140.1,980.8 152.1,986.8 162.7,993.3 167.7,997.9 164.7,1000.2 156.3,1001.5 146,1001.8 137.5,1001.2 130.9,999.2 124.7,996 119.4,992.6 115.7,990.3" fill="#ffff00"/>
<polygon points="214.3,1019.3 206.3,1018.8 201.2,1018.5 194.2,1018 185.8,1017.4 176.8,1017.1 167.7,1017.2 158.3,1017.7 148,1018.5 137.5,1019.5 127.1,1020.8 117.4,1022.2 108.2,1023.9 99.1,1025.8 90.4,1028 82.5,1030.1 75.5,1032.2 69.5,1034.4 64.3,1036.7 59.9,1039 56.3,1040.9 53.7,1042.3 46.6,1046 46.6,1211.1 471,1211.1 471,906.8 214.3,906.8" fill="#10ff00"/>
<polygon points="264.6,1047.1 256.6,1047.3 251.5,1047.4 244.5,1047.5 236.1,1047.8 227.1,1048.2 218,1049 208.6,1050.2 198.3,1051.6 187.8,1053.4 177.4,1055.3 167.7,1057.4 158.5,1059.9 149.5,1063 141,1066 133,1068.8 125.8,1070.8 119.3,1071.9 113.3,1072.4 108.1,1072.5 103.8,1072.5 100.6,1072.5 92.6,1072.6 92.6,1222.6 471,1222.6 471,906.8 264.6,906.8" fill="#00ff90"/>
<polygon points="283.1,1061.4 275.1,1060.8 269.6,1060.4 262,1059.8 253,1059.1 243.6,1058.8 234.8,1059.1 226.5,1060.1 218.2,1061.5 209.7,1063.3 201.3,1065.3 192.9,1067.5 184.2,1070 175.1,1072.8 166.1,1075.8 157.9,1078.6 150.9,1080.9 145.2,1082.8 140.3,1084.4 136.3,1085.7 133.2,1086.8 130.8,1087.6 123.2,1090.2 123.2,1240.2 471,1240.2 471,906.8 283.1,906.8" fill="#00ffff"/>
<polygon points="299.8,1070 291.8,1070.8 286.9,1071.3 280.1,1071.9 272,1072.7 263.1,1073.8 254.2,1075.2 244.9,1077 234.9,1079.2 224.5,1081.7 214.1,1084.3 203.9,1086.9 193.3,1089.8 182,1093.1 171.1,1096.4 161.8,1099.2 155.2,1101.2 147.5,1103.5 147.5,1253.5 471,1253.5 471,906.8 299.8,906.8" fill="#00d0ff"/>
<polygon points="359.2,1104.3 351.5,1102 345.6,1100.2 337.2,1097.6 327.5,1094.7 317.3,1092.1 307.8,1090.3 298.8,1089.4 289.7,1089.1 280.5,1089.1 271.5,1089.6 262.6,1090.3 253.9,1091.3 245.4,1092.6 237,1094.3 228.7,1096.3 220.6,1098.6 212.1,1101.7 203.1,1105.5 194.6,1109.5 187.3,1113 182.1,1115.4 174.9,1118.8 174.9,1268.8 471,1268.8 471,906.8 359.2,906.8" fill="#0050ff"/>
<polygon points="395.7,1125.6 388,1123.5 382.9,1122.1 375.7,1120.1 367.3,1117.8 358.5,1115.7 350,1114 341.7,1112.8 333.2,1111.7 324.5,1110.9 316,1110.5 307.8,1110.4 299.9,1110.8 292.1,1111.5 284.6,1112.6 277.4,1113.9 270.9,1115.4 265.1,1117.1 259.9,1119 255.2,1121 250.5,1123.2 245.8,1125.5 240.6,1128 235.2,1130.9 229.9,1133.8 225.5,1136.3 222.3,1138 215.3,1141.8 215.3,1291.8 471,1291.8 471,906.8 395.7,906.8" fill="#0000ff"/>
</g>
<g clip-path="url(#fd)">
<polygon points="18.4,1023.9 297,1181.1 297,1293.4 18.4,1136.2" fill="#ff0000"/>
<polygon points="-53.6,975.6 -56.6,981.6 -66.6,998.4 -16.6,1026.6 -26.6,1043.4 23.4,1071.6 13.4,1088.5 83.4,1128 73.4,1144.8 100.4,1160 90.4,1176.8 87.4,1182.8 357,1382.8 357,923.9 -53.6,923.9" fill="#ff5000"/>
<polygon points="-13.6,998.2 -16.6,1004.2 -26.6,1021 23.4,1049.2 13.4,1066 66.9,1096.2 56.9,1113 109.4,1142.6 99.4,1159.4 133.4,1178.6 123.4,1195.4 120.4,1201.4 357,1401.4 357,923.9 -13.6,923.9" fill="#ffd000"/>
<polygon points="21.4,1017.9 18.4,1023.9 8.4,1040.7 52.4,1065.5 42.4,1082.4 100.4,1115.1 90.4,1131.9 133.4,1156.2 123.4,1173 156.1,1191.4 146.1,1208.3 143.1,1214.3 357,1414.3 357,923.9 21.4,923.9" fill="#ffff00"/>
<polygon points="79.4,1050.6 76.4,1056.6 66.4,1073.4 109.4,1097.7 99.4,1114.5 133.4,1133.7 123.4,1150.5 156.1,1169 146.1,1185.8 191.4,1211.4 181.4,1228.2 178.4,1234.2 357,1434.2 357,923.9 79.4,923.9" fill="#90ff00"/>
<polygon points="107.9,1066.7 104.9,1072.7 94.9,1089.5 123.4,1105.6 113.4,1122.4 149.1,1142.6 139.1,1159.4 188.4,1187.2 178.4,1204 215.4,1224.9 205.4,1241.7 202.4,1247.7 357,1447.7 357,923.9 107.9,923.9" fill="#10ff00"/>
<polygon points="149.4,1090.1 146.4,1096.1 136.4,1112.9 168.4,1131 158.4,1147.8 202.4,1172.6 192.4,1189.5 242,1217.4 232,1234.3 261.4,1250.9 251.4,1267.7 248.4,1273.7 357,1473.7 357,923.9 149.4,923.9" fill="#00ff90"/>
<polygon points="166.4,1099.7 163.4,1105.7 153.4,1122.5 188.4,1142.3 178.4,1159.1 216.4,1180.5 206.4,1197.4 254.4,1224.4 244.4,1241.3 275.4,1258.8 265.4,1275.6 262.4,1281.6 357,1481.6 357,923.9 166.4,923.9" fill="#00ffff"/>
<polygon points="191.4,1113.8 188.4,1119.8 178.4,1136.6 216.4,1158.1 206.4,1174.9 244.4,1196.3 234.4,1213.2 268.4,1232.3 258.4,1249.2 303.4,1274.6 293.4,1291.4 290.4,1297.4 357,1497.4 357,923.9 191.4,923.9" fill="#00d0ff"/>
<polygon points="219.4,1129.6 216.4,1135.6 206.4,1152.4 244.4,1173.9 234.4,1190.7 268.4,1209.9 258.4,1226.7 303.4,1252.1 293.4,1268.9 343.4,1297.1 333.4,1313.9 330.4,1319.9 357,1519.9 357,923.9 219.4,923.9" fill="#0050ff"/>
<polygon points="230.9,1136.1 227.9,1142.1 217.9,1158.9 268.4,1187.4 258.4,1204.2 303.4,1229.6 293.4,1246.4 343.4,1274.7 333.4,1291.5 423.4,1342.3 413.4,1359.1 410.4,1365.1 357,1565.1 357,923.9 230.9,923.9" fill="#0000ff"/>
</g>
<g clip-path="url(#ed)">
<polygon points="297,1181.1 391,1124 391,1236.3 297,1293.4" fill="#0000ff"/>
<polygon points="287.6,1260.9 348.7,1217.1 367.5,1228.1 400.4,1187.9 400.4,1241.8 287.6,1310.3" fill="#0050ff"/>
<polygon points="364.7,1164.7 400.4,1140.8 400.4,1158.7 364.7,1180.4" fill="#0050ff"/>
<polygon points="287.6,1287.9 329.9,1255.4 344,1276.1 287.6,1310.3" fill="#00d0ff"/>
<polygon points="372.2,1197.2 400.4,1174.4 400.4,1205.9 377.8,1221.8" fill="#00d0ff"/>
</g>
<path d="M49.8 1048.8v101.6M77.6 1069.5v100.1M105.5 1084.9v101.7M133.3 1101.2v101.1M161.2 1111.1v101.6M189.1 1126.6v98.7M216.9 1149.5v102.3M244.8 1160.1v99.7M272.6 1175v103.2" stroke="#fff" stroke-width="1.5" stroke-dasharray="4 3 2 4" fill="none" opacity="0.62"/>
<path d="M320.5 1192.8v84.3M344 1178.6v84.3M367.5 1164.3v84.3" stroke="#fff" stroke-width="1.4" stroke-dasharray="4 3 2 4" fill="none" opacity="0.55"/>
<path d="M23.9 1032.9l9 4.5l-9 4.5zM23.9 1055.4l9 4.5l-9 4.5zM23.9 1077.8l9 4.5l-9 4.5zM23.9 1100.3l9 4.5l-9 4.5zM23.9 1122.7l9 4.5l-9 4.5z" fill="#fff" opacity="0.95"/>
<path d="M16.4 1022.5h3v3h-3zM18.3 1068.3h3v3h-3zM17.3 1133.8h3v3h-3zM40.1 1008.9h3v3h-3zM88.4 980.8h3v3h-3zM44.6 1038.4h3v3h-3zM44.9 1084.5h3v3h-3zM67.6 1024.1h3v3h-3zM91.3 1010.6h3v3h-3zM115.2 996.1h3v3h-3zM73.7 1123h3v3h-3zM96.1 1039.8h3v3h-3zM120.1 1026.4h3v3h-3zM143.9 1011.6h3v3h-3zM99.1 1069.1h3v3h-3zM99.9 1092.1h3v3h-3zM99 1179.9h3v3h-3zM124.1 1055.9h3v3h-3zM147.1 1042.3h3v3h-3zM171.6 1027.1h3v3h-3zM128.5 1108.4h3v3h-3zM129.2 1131.8h3v3h-3zM127.4 1151.4h3v3h-3zM127.3 1174.9h3v3h-3zM127 1198.2h3v3h-3zM152 1070.9h3v3h-3zM175.2 1055.8h3v3h-3zM155.1 1099.5h3v3h-3zM157.5 1124.5h3v3h-3zM155.5 1168.6h3v3h-3zM157.7 1191.4h3v3h-3zM155.5 1212.3h3v3h-3zM182.6 1114.6h3v3h-3zM184.5 1139.8h3v3h-3zM184.6 1206.7h3v3h-3zM209 1101h3v3h-3zM255.5 1072.8h3v3h-3zM212.6 1155.9h3v3h-3zM210.9 1176.5h3v3h-3zM211.1 1198.3h3v3h-3zM211.2 1244.7h3v3h-3zM259.2 1104.1h3v3h-3zM281.8 1090.7h3v3h-3zM239.5 1170.3h3v3h-3zM238.4 1237.1h3v3h-3zM238.7 1258.7h3v3h-3zM263.7 1132.7h3v3h-3zM268.4 1164.6h3v3h-3zM269 1187.8h3v3h-3zM268.8 1208.3h3v3h-3zM268.9 1277.7h3v3h-3zM315.4 1136.2h3v3h-3zM336.7 1119.6h3v3h-3zM295.6 1178.6h3v3h-3zM295.4 1224.5h3v3h-3zM294.1 1247.4h3v3h-3zM319.1 1166.7h3v3h-3z" fill="#064a06" opacity="0.9"/>
</g>
<g id="bld-e" filter="url(#bl)">
<rect x="643.9" y="1132.6" width="6" height="15" fill="#10ff00" opacity="0.9"/>
<rect x="672.6" y="1148.8" width="6" height="15" fill="#10ff00" opacity="0.9"/>
<rect x="701.3" y="1165" width="6" height="15" fill="#10ff00" opacity="0.9"/>
<rect x="729.9" y="1181.2" width="6" height="15" fill="#10ff00" opacity="0.9"/>
<rect x="758.6" y="1197.4" width="6" height="15" fill="#10ff00" opacity="0.9"/>
<rect x="787.3" y="1213.6" width="6" height="15" fill="#00ff18" opacity="0.9"/>
<rect x="816" y="1229.8" width="6" height="15" fill="#00ff90" opacity="0.9"/>
<rect x="844.7" y="1246" width="6" height="15" fill="#00ffff" opacity="0.9"/>
<rect x="873.3" y="1262.2" width="6" height="15" fill="#00ffff" opacity="0.9"/>
<rect x="902" y="1278.4" width="6" height="15" fill="#0050ff" opacity="0.9"/>
<rect x="930.7" y="1294.6" width="6" height="15" fill="#0050ff" opacity="0.9"/>
<rect x="951.7" y="1279.5" width="6" height="15" fill="#0050ff" opacity="0.9"/>
<rect x="975.7" y="1265.3" width="6" height="15" fill="#0050ff" opacity="0.9"/>
<rect x="999.8" y="1251" width="6" height="15" fill="#0050ff" opacity="0.9"/>
<rect x="1023.8" y="1236.8" width="6" height="15" fill="#00ffff" opacity="0.9"/>
<g clip-path="url(#re)">
<polygon points="645.4,1018.8 741.5,961.8 1028.3,1123.8 932.2,1180.8" fill="#10ff00"/>
<polygon points="747.4,992 748.3,986.7 749.1,978.8 752.5,972.2 760.8,971 778.8,978.5 803.9,991.8 827.2,1005.7 840,1015 837.6,1018 825.4,1017.6 809.9,1015.5 797.7,1013.8 790.2,1012.7 784.1,1011.3 778.5,1009.5 772.6,1007.1 765.7,1003.6 758.4,999.1 751.9,994.9 747.4,992" fill="#90ff00"/>
<polygon points="881.2,1035.9 873.2,1036.4 862.5,1037 847.2,1038 829.7,1039 812.4,1040 797.7,1040.6 785.8,1041 775.2,1041.3 765.5,1041.3 756.3,1041.1 747.4,1040.6 738.7,1039.8 730.4,1038.7 722.6,1037.3 715.4,1035.5 708.8,1033.1 702.8,1029.9 697.4,1026.1 692.6,1021.8 688.6,1017.6 685.3,1013.8 683,1010.1 681.7,1006.4 681.1,1003 680.7,1000 680.3,997.9 678.9,990 615.4,990 615.4,1210.8 1108.3,1210.8 1108.3,901.8 881.2,901.8" fill="#00ff90"/>
<polygon points="906.3,1050.1 898.3,1050.7 891.5,1051.2 881.8,1051.9 870.5,1052.6 858.9,1053.4 848,1054 837.9,1054.4 827.9,1054.8 817.8,1055.1 807.8,1055.4 797.7,1055.7 787.1,1056 776,1056.2 765.1,1056.5 755.3,1056.8 747.4,1057.4 741.7,1058.3 737.8,1059.4 735,1060.5 732.8,1061.6 730.6,1062.4 728.5,1062.9 726.9,1063.1 725.6,1063.2 724.6,1063.2 723.9,1063.3 715.9,1063.9 715.9,1213.9 1108.3,1213.9 1108.3,901.8 906.3,901.8" fill="#00ffff"/>
<polygon points="933.2,1066.8 925.2,1067.5 917.1,1068.3 905.7,1069.4 892.3,1070.6 878.3,1071.7 864.8,1072.5 851.3,1072.8 836.8,1072.8 822.4,1072.6 809.1,1072.5 797.7,1072.5 788.5,1072.7 780.9,1072.9 774.5,1073.2 769.1,1073.6 764.2,1074.2 760,1075.1 756.7,1076.2 754.2,1077.4 752.3,1078.5 750.8,1079.2 743.6,1082.7 743.6,1232.7 1108.3,1232.7 1108.3,901.8 933.2,901.8" fill="#00d0ff"/>
<polygon points="967.9,1089.5 960,1088 955.4,1087.1 949,1085.8 941.4,1084.4 933.3,1083.2 925.2,1082.6 917.2,1082.7 908.7,1083.4 899.9,1084.3 890.9,1085.2 881.6,1085.9 871.8,1086.3 861.6,1086.6 851.1,1086.9 840.9,1087.2 831.3,1087.6 821.9,1088.2 812.4,1088.8 803.5,1089.6 795.6,1090.3 789.3,1090.9 784.8,1091.5 781.9,1092.1 780,1092.7 778.7,1093.2 777.6,1093.5 770,1095.9 770,1245.9 1108.3,1245.9 1108.3,901.8 967.9,901.8" fill="#0050ff"/>
<polygon points="1033.6,1126.5 1026,1124 1020.7,1122.2 1013.5,1119.7 1004.7,1116.8 995.1,1114.1 985,1112 974,1110.4 961.7,1109.1 948.9,1108.1 936.4,1107.5 925.2,1107.4 915.3,1108 906.1,1109.3 897.5,1110.9 889.4,1112.6 881.6,1114 874,1115.2 866.8,1116.4 860,1117.6 853.7,1118.6 848,1119.5 842.8,1120.2 838,1120.8 833.8,1121.3 830.4,1121.7 827.9,1122 820,1122.9 820,1272.9 1108.3,1272.9 1108.3,901.8 1033.6,901.8" fill="#0000ff"/>
</g>
<g clip-path="url(#fe)">
<polygon points="645.4,1018.8 932.2,1180.8 932.2,1295.8 645.4,1133.8" fill="#ff5000"/>
<polygon points="553.4,959.1 550.4,965.1 540.4,982.5 590.4,1010.7 580.4,1028.1 630.4,1056.3 620.4,1073.7 682.4,1108.7 672.4,1126.1 763.4,1177.5 753.4,1194.8 750.4,1200.8 992.2,1400.8 992.2,918.8 553.4,918.8" fill="#ffd000"/>
<polygon points="573.4,970.4 570.4,976.4 560.4,993.8 610.4,1022 600.4,1039.4 650.4,1067.6 640.4,1085 713.4,1126.2 703.4,1143.6 789.1,1192 779.1,1209.3 776.1,1215.3 992.2,1415.3 992.2,918.8 573.4,918.8" fill="#ffff00"/>
<polygon points="603.4,987.4 600.4,993.4 590.4,1010.7 630.4,1033.3 620.4,1050.7 682.4,1085.7 672.4,1103.1 770.4,1158.4 760.4,1175.8 817.2,1207.8 807.2,1225.2 804.2,1231.2 992.2,1431.2 992.2,918.8 603.4,918.8" fill="#90ff00"/>
<polygon points="633.4,1004.3 630.4,1010.3 620.4,1027.7 682.4,1062.7 672.4,1080.1 713.4,1103.2 703.4,1120.6 790.4,1169.7 780.4,1187.1 848.2,1225.4 838.2,1242.7 835.2,1248.7 992.2,1448.7 992.2,918.8 633.4,918.8" fill="#10ff00"/>
<polygon points="733.4,1060.8 730.4,1066.8 720.4,1084.2 755.4,1103.9 745.4,1121.3 821.4,1164.2 811.4,1181.6 862.4,1210.4 852.4,1227.7 901.4,1255.4 891.4,1272.8 888.4,1278.8 992.2,1478.8 992.2,918.8 733.4,918.8" fill="#00ff90"/>
<polygon points="748.4,1069.3 745.4,1075.3 735.4,1092.6 785.4,1120.9 775.4,1138.2 848.4,1179.5 838.4,1196.8 876.4,1218.3 866.4,1235.6 915.4,1263.3 905.4,1280.7 902.4,1286.7 992.2,1486.7 992.2,918.8 748.4,918.8" fill="#00ffff"/>
<polygon points="783.4,1089.1 780.4,1095.1 770.4,1112.4 821.4,1141.2 811.4,1158.6 876.4,1195.3 866.4,1212.6 904.4,1234.1 894.4,1251.4 940.4,1277.4 930.4,1294.8 927.4,1300.8 992.2,1500.8 992.2,918.8 783.4,918.8" fill="#00d0ff"/>
<polygon points="818.4,1108.8 815.4,1114.8 805.4,1132.2 876.4,1172.3 866.4,1189.6 904.4,1211.1 894.4,1228.4 940.4,1254.4 930.4,1271.8 980.4,1300 970.4,1317.4 967.4,1323.4 992.2,1523.4 992.2,918.8 818.4,918.8" fill="#0050ff"/>
<polygon points="851.4,1127.5 848.4,1133.5 838.4,1150.8 901.4,1186.4 891.4,1203.8 935.4,1228.6 925.4,1246 980.4,1277 970.4,1294.4 1050.4,1339.6 1040.4,1356.9 1037.4,1362.9 992.2,1562.9 992.2,918.8 851.4,918.8" fill="#0000ff"/>
</g>
<g clip-path="url(#ee)">
<polygon points="932.2,1180.8 1028.3,1123.8 1028.3,1238.8 932.2,1295.8" fill="#0000ff"/>
<polygon points="922.6,1262.4 985.1,1218.5 1004.3,1230 1037.9,1189.4 1037.9,1244.6 922.6,1313" fill="#0050ff"/>
<polygon points="1001.4,1165.1 1037.9,1141.1 1037.9,1159.5 1001.4,1181.2" fill="#0050ff"/>
<polygon points="922.6,1290 965.8,1257.4 980.2,1278.8 922.6,1313" fill="#00d0ff"/>
<polygon points="1009.1,1198.5 1037.9,1175.6 1037.9,1207.8 1014.8,1223.8" fill="#00d0ff"/>
</g>
<path d="M677.6 1047.6v105.8M706.3 1066.9v101.5M734.9 1079.1v103M763.6 1093.3v105.7M792.3 1110.1v102.8M821 1125.7v101.2M849.7 1140.7v105.8M878.3 1157.1v102.4M907 1175.5v104.2" stroke="#fff" stroke-width="1.5" stroke-dasharray="4 3 2 4" fill="none" opacity="0.62"/>
<path d="M956.2 1192.5v87M980.2 1178.3v87M1004.3 1164v87" stroke="#fff" stroke-width="1.4" stroke-dasharray="4 3 2 4" fill="none" opacity="0.55"/>
<path d="M650.9 1027.8l9 4.5l-9 4.5zM650.9 1050.8l9 4.5l-9 4.5zM650.9 1073.8l9 4.5l-9 4.5zM650.9 1096.8l9 4.5l-9 4.5zM650.9 1119.8l9 4.5l-9 4.5z" fill="#fff" opacity="0.95"/>
<path d="M644.3 1017.2h3v3h-3zM643.7 1039.6h3v3h-3zM644.9 1064.4h3v3h-3zM643.5 1131.9h3v3h-3zM668.4 1001.6h3v3h-3zM692.1 988.3h3v3h-3zM716.6 973.1h3v3h-3zM671.2 1054.8h3v3h-3zM671.5 1079.5h3v3h-3zM673 1125.7h3v3h-3zM673.7 1148.6h3v3h-3zM700 1047.6h3v3h-3zM702.6 1074.6h3v3h-3zM701.9 1119.9h3v3h-3zM724.3 1036.3h3v3h-3zM731.1 1065.5h3v3h-3zM728.6 1134.3h3v3h-3zM728.6 1179.5h3v3h-3zM779.3 1036.7h3v3h-3zM800.9 1024.6h3v3h-3zM757.4 1104.9h3v3h-3zM759 1152.4h3v3h-3zM758.8 1175.1h3v3h-3zM757.9 1197.2h3v3h-3zM806.2 1054.9h3v3h-3zM831.2 1040.5h3v3h-3zM786 1096.7h3v3h-3zM786.2 1119.6h3v3h-3zM786.9 1143.9h3v3h-3zM811.8 1084.2h3v3h-3zM835.5 1069.3h3v3h-3zM815.8 1137.3h3v3h-3zM814.6 1158.4h3v3h-3zM816.5 1229.1h3v3h-3zM846.1 1132.8h3v3h-3zM844.4 1153.4h3v3h-3zM845 1175.8h3v3h-3zM845.2 1245.3h3v3h-3zM874 1169.2h3v3h-3zM872.6 1214.7h3v3h-3zM874.2 1238.2h3v3h-3zM872.4 1260.4h3v3h-3zM900.6 1184.4h3v3h-3zM902.7 1210.7h3v3h-3zM901.2 1231.9h3v3h-3zM903.3 1280h3v3h-3zM949 1133.4h3v3h-3zM974.4 1121h3v3h-3zM929.6 1246.4h3v3h-3zM930.8 1272.8h3v3h-3zM929.9 1294.5h3v3h-3zM954.9 1164h3v3h-3z" fill="#064a06" opacity="0.9"/>
</g>
<g id="bld-f" filter="url(#bl)">
<rect x="1293.9" y="1126.6" width="6" height="15" fill="#00ff18" opacity="0.9"/>
<rect x="1322" y="1142.5" width="6" height="15" fill="#00ff18" opacity="0.9"/>
<rect x="1350.1" y="1158.4" width="6" height="15" fill="#00ff18" opacity="0.9"/>
<rect x="1378.2" y="1174.3" width="6" height="15" fill="#00ff18" opacity="0.9"/>
<rect x="1406.3" y="1190.2" width="6" height="15" fill="#00ff18" opacity="0.9"/>
<rect x="1434.4" y="1206" width="6" height="15" fill="#00ff90" opacity="0.9"/>
<rect x="1462.5" y="1221.9" width="6" height="15" fill="#00ffff" opacity="0.9"/>
<rect x="1490.6" y="1237.8" width="6" height="15" fill="#00d0ff" opacity="0.9"/>
<rect x="1518.7" y="1253.7" width="6" height="15" fill="#0050ff" opacity="0.9"/>
<rect x="1546.8" y="1269.6" width="6" height="15" fill="#0050ff" opacity="0.9"/>
<rect x="1574.9" y="1285.4" width="6" height="15" fill="#0050ff" opacity="0.9"/>
<rect x="1595.5" y="1270.6" width="6" height="15" fill="#0050ff" opacity="0.9"/>
<rect x="1619.2" y="1256.5" width="6" height="15" fill="#0050ff" opacity="0.9"/>
<rect x="1642.8" y="1242.5" width="6" height="15" fill="#0050ff" opacity="0.9"/>
<rect x="1666.4" y="1228.4" width="6" height="15" fill="#00ffff" opacity="0.9"/>
<g clip-path="url(#rf)">
<polygon points="1295.4,1014.6 1389.9,958.4 1670.9,1117.2 1576.4,1173.4" fill="#00ff90"/>
<polygon points="1290,1010 1293.2,1008.5 1298,1006.3 1302.8,1004.7 1306,1005 1307.5,1008.5 1308,1014.2 1307.5,1020 1306,1024 1302.8,1025.7 1298,1026.1 1293.2,1025.4 1290,1024 1288.9,1021.2 1289,1017 1289.6,1012.8 1290,1010" fill="#00ffff"/>
<polygon points="1407.5,966 1401.3,966.8 1392.4,967.9 1382.6,969.9 1373.9,973.5 1366.2,979.9 1358.6,988.3 1352,996.9 1347.1,1003.7 1344.1,1007.8 1342.5,1010.3 1342.3,1012.5 1343.7,1015.5 1346.4,1019.9 1350.4,1024.9 1356.2,1029.8 1363.9,1033.9 1374.4,1036.9 1387.2,1039.3 1400.9,1041 1414.2,1042.3 1427.2,1043 1440.4,1043.1 1453.1,1042.8 1464.5,1042.3 1474.3,1041.5 1483,1040.3 1490.8,1038.9 1498,1037.3 1507.7,1036.7 1518.7,1036.8 1525.1,1035 1521,1029 1499.6,1015.6 1465.7,997 1431.1,978.6 1407.5,966" fill="#10ff00"/>
<polygon points="1387.3,995.3 1389,993.2 1391.3,990.1 1394.2,986.7 1397.4,983.6 1399.7,979.7 1401.6,975 1405.6,972 1414.2,973 1431.8,980.6 1455.9,992.8 1478.5,1005.5 1492,1014.5 1492.7,1018.3 1485.2,1019.2 1474.3,1018.9 1464.5,1018.8 1456.5,1019.4 1448.1,1019.8 1439.4,1019.7 1430.9,1018.8 1422,1016.7 1412.7,1013.7 1404.1,1010.3 1397.4,1007.1 1393,1003.9 1390.3,1000.5 1388.6,997.4 1387.3,995.3" fill="#90ff00"/>
<polygon points="1544,1037.7 1536.6,1040.6 1531.5,1042.6 1524.5,1045.5 1516.1,1048.7 1507.1,1051.7 1498,1054 1488.7,1055.4 1478.7,1056.4 1468.4,1057 1457.9,1057.3 1447.7,1057.4 1437.5,1057.2 1427.2,1056.7 1416.9,1055.9 1406.9,1055 1397.4,1054 1387.8,1052.8 1378,1051.2 1368.8,1049.7 1361.1,1048.3 1355.5,1047.3 1347.6,1045.9 1347.6,1203.4 1750.9,1203.4 1750.9,898.4 1544,898.4" fill="#00ffff"/>
<polygon points="1562,1048.3 1555.1,1052.4 1552.3,1054 1548.7,1056.4 1544.1,1059.1 1538.4,1061.8 1531.6,1064.1 1523.3,1066.1 1513.4,1068.1 1502.7,1069.9 1491.8,1071.4 1481.3,1072.5 1471,1073.1 1460.3,1073.2 1449.8,1073 1439.9,1072.7 1430.9,1072.5 1422.7,1072.3 1415.1,1072 1408.2,1071.7 1402.2,1071.3 1397.4,1070.8 1394,1070.2 1391.8,1069.4 1390.6,1068.7 1389.7,1068 1389,1067.5 1382.3,1063.2 1382.3,1213.2 1750.9,1213.2 1750.9,898.4 1562,898.4" fill="#00d0ff"/>
<polygon points="1582.4,1059.3 1576,1064 1573.9,1065.6 1570.9,1067.8 1567.4,1070.4 1563.4,1073 1559.3,1075.2 1555.2,1077.1 1551.1,1078.9 1546.5,1080.5 1541,1082.1 1534.2,1083.5 1525.9,1084.8 1516.3,1086.1 1505.8,1087.1 1494.8,1088 1483.9,1088.6 1471.9,1088.8 1458.5,1088.6 1445.4,1088.3 1434,1087.9 1426,1087.7 1418,1087.5 1418,1237.5 1750.9,1237.5 1750.9,898.4 1582.4,898.4" fill="#0050ff"/>
<polygon points="1675.8,1119.4 1668,1117.5 1663.7,1116.5 1657.8,1115 1650.7,1113.3 1642.9,1111.5 1634.8,1110 1625.8,1108.5 1615.6,1107 1605.2,1105.6 1595.6,1104.4 1587.8,1103.7 1582.8,1103.4 1580,1103.5 1577.8,1103.9 1574.8,1104.5 1569.4,1105.3 1561,1106.3 1550.6,1107.7 1539.2,1109.2 1527.8,1110.7 1517.4,1112 1507.4,1113.2 1497.3,1114.4 1487.7,1115.4 1479.6,1116.3 1473.8,1117 1465.9,1117.9 1465.9,1267.9 1750.9,1267.9 1750.9,898.4 1675.8,898.4" fill="#0000ff"/>
</g>
<g clip-path="url(#ff)">
<polygon points="1295.4,1014.6 1576.4,1173.4 1576.4,1286.6 1295.4,1127.8" fill="#ff5000"/>
<polygon points="1103.4,898.4 1100.4,904.4 1090.4,921.4 1150.4,955.3 1140.4,972.3 1200.4,1006.2 1190.4,1023.2 1280.4,1074 1270.4,1091 1384.9,1155.7 1374.9,1172.7 1371.9,1178.7 1636.4,1378.7 1636.4,914.6 1103.4,914.6" fill="#ffd000"/>
<polygon points="1203.4,954.9 1200.4,960.9 1190.4,977.9 1240.4,1006.2 1230.4,1023.1 1280.4,1051.4 1270.4,1068.4 1332.4,1103.4 1322.4,1120.4 1438.9,1186.3 1428.9,1203.2 1425.9,1209.2 1636.4,1409.2 1636.4,914.6 1203.4,914.6" fill="#ffff00"/>
<polygon points="1243.4,977.5 1240.4,983.5 1230.4,1000.5 1270.4,1023.1 1260.4,1040.1 1332.4,1080.8 1322.4,1097.8 1375.4,1127.7 1365.4,1144.7 1467.1,1202.2 1457.1,1219.2 1454.1,1225.2 1636.4,1425.2 1636.4,914.6 1243.4,914.6" fill="#90ff00"/>
<polygon points="1283.4,1000.1 1280.4,1006.1 1270.4,1023.1 1290.4,1034.4 1280.4,1051.4 1363.4,1098.3 1353.4,1115.3 1420.4,1153.2 1410.4,1170.1 1493.8,1217.3 1483.8,1234.3 1480.8,1240.3 1636.4,1440.3 1636.4,914.6 1283.4,914.6" fill="#10ff00"/>
<polygon points="1359.4,1043.1 1356.4,1049.1 1346.4,1066.1 1395.4,1093.8 1385.4,1110.7 1450.2,1147.4 1440.2,1164.4 1493.8,1194.6 1483.8,1211.6 1524.8,1234.8 1514.8,1251.8 1511.8,1257.8 1636.4,1457.8 1636.4,914.6 1359.4,914.6" fill="#00ff90"/>
<polygon points="1383.4,1056.6 1380.4,1062.6 1370.4,1079.6 1429.1,1112.8 1419.1,1129.8 1467.1,1156.9 1457.1,1173.9 1522,1210.6 1512,1227.6 1550.1,1249.1 1540.1,1266.1 1537.1,1272.1 1636.4,1472.1 1636.4,914.6 1383.4,914.6" fill="#00ffff"/>
<polygon points="1434.9,1085.7 1431.9,1091.7 1421.9,1108.7 1467.1,1134.3 1457.1,1151.3 1507.9,1180 1497.9,1197 1550.1,1226.5 1540.1,1243.4 1585.4,1269 1575.4,1286 1572.4,1292 1636.4,1492 1636.4,914.6 1434.9,914.6" fill="#00d0ff"/>
<polygon points="1474.4,1108.1 1471.4,1114.1 1461.4,1131.1 1522,1165.3 1512,1182.3 1541.7,1199.1 1531.7,1216.1 1585.4,1246.4 1575.4,1263.4 1630.4,1294.5 1620.4,1311.5 1617.4,1317.5 1636.4,1517.5 1636.4,914.6 1474.4,914.6" fill="#0050ff"/>
<polygon points="1496.8,1120.7 1493.8,1126.7 1483.8,1143.7 1550.1,1181.2 1540.1,1198.2 1585.4,1223.8 1575.4,1240.8 1630.4,1271.8 1620.4,1288.8 1700.4,1334 1690.4,1351 1687.4,1357 1636.4,1557 1636.4,914.6 1496.8,914.6" fill="#0000ff"/>
<polygon points="1290.4,1110.3 1307.4,1119.9 1317.4,1132.3 1335.4,1156.1 1290.4,1130.6" fill="#ffd000"/>
<polygon points="1290.4,1093.3 1305.4,1104 1305.4,1117.6 1290.4,1106.9" fill="#ff5000"/>
</g>
<g clip-path="url(#ef)">
<polygon points="1576.4,1173.4 1670.9,1117.2 1670.9,1230.4 1576.4,1286.6" fill="#0000ff"/>
<polygon points="1567,1253.7 1628.4,1210.4 1647.3,1221.8 1680.4,1181.8 1680.4,1236.1 1567,1303.5" fill="#0050ff"/>
<polygon points="1644.4,1157.8 1680.4,1134.2 1680.4,1152.3 1644.4,1173.7" fill="#0050ff"/>
<polygon points="1567,1280.9 1609.5,1248.8 1623.7,1269.8 1567,1303.5" fill="#00d0ff"/>
<polygon points="1652,1190.7 1680.4,1168.2 1680.4,1199.9 1657.7,1215.6" fill="#00d0ff"/>
</g>
<path d="M1327 1039.6v101.5M1355.1 1055.7v100.9M1383.2 1075.1v102.9M1411.3 1091v101.8M1439.4 1102.3v102M1467.5 1122.8v102.1M1495.6 1140.8v100.8M1523.7 1152.6v103.8M1551.8 1166.5v100.3" stroke="#fff" stroke-width="1.5" stroke-dasharray="4 3 2 4" fill="none" opacity="0.62"/>
<path d="M1600 1185.4v85.2M1623.7 1171.3v85.2M1647.3 1157.2v85.2" stroke="#fff" stroke-width="1.4" stroke-dasharray="4 3 2 4" fill="none" opacity="0.55"/>
<path d="M1300.9 1023.6l9 4.5l-9 4.5zM1300.9 1046.2l9 4.5l-9 4.5zM1300.9 1068.9l9 4.5l-9 4.5zM1300.9 1091.5l9 4.5l-9 4.5zM1300.9 1114.2l9 4.5l-9 4.5z" fill="#fff" opacity="0.95"/>
<path d="M1293.9 1057.5h3v3h-3zM1292.8 1080.8h3v3h-3zM1316.3 998.5h3v3h-3zM1365.5 970.7h3v3h-3zM1323.2 1028.7h3v3h-3zM1322.3 1052.2h3v3h-3zM1322.2 1074.2h3v3h-3zM1370.6 1000.7h3v3h-3zM1350.8 1090.9h3v3h-3zM1351.5 1158.9h3v3h-3zM1375 1032.1h3v3h-3zM1396.1 1017.8h3v3h-3zM1377.5 1060.9h3v3h-3zM1378 1106.4h3v3h-3zM1377.9 1127.4h3v3h-3zM1377.4 1149.6h3v3h-3zM1377.2 1172.2h3v3h-3zM1401.6 1046.1h3v3h-3zM1448.3 1017.7h3v3h-3zM1407 1076.1h3v3h-3zM1407.2 1100.8h3v3h-3zM1407.3 1122.9h3v3h-3zM1405.1 1142.9h3v3h-3zM1407.3 1191.8h3v3h-3zM1452.1 1047.8h3v3h-3zM1477.6 1035.1h3v3h-3zM1435.4 1183h3v3h-3zM1504.3 1051.7h3v3h-3zM1462.4 1108.6h3v3h-3zM1463.6 1133h3v3h-3zM1461.4 1154.3h3v3h-3zM1461.7 1174.8h3v3h-3zM1462.7 1198.4h3v3h-3zM1511.1 1079h3v3h-3zM1490.6 1169.7h3v3h-3zM1489.9 1215.6h3v3h-3zM1519.3 1139.3h3v3h-3zM1517.7 1206.2h3v3h-3zM1520.1 1230.7h3v3h-3zM1541.8 1126h3v3h-3zM1567.3 1111.3h3v3h-3zM1588.7 1096.8h3v3h-3zM1546.8 1179.2h3v3h-3zM1545.5 1201.1h3v3h-3zM1546.7 1248h3v3h-3zM1595.5 1126.6h3v3h-3zM1618.7 1113.5h3v3h-3zM1574.7 1171.5h3v3h-3zM1574.4 1240.4h3v3h-3z" fill="#064a06" opacity="0.9"/>
</g>
<g id="triad" filter="url(#bt)">
<polygon points="36,551 84,524 80,517 111,511 98,541 93,534 44,562" fill="#10ff10"/>
<polygon points="40,551 88,577 93,570 111,596 82,596 85,588 36,562" fill="#ff0000"/>
<polygon points="82,596 111,596 100,581" fill="#c00000" opacity="0.5"/>
<polygon points="29.6,549 29.6,497 23.5,492 23.5,484 35.3,467 47.5,484 47.5,492 41,497 41,549" fill="#0000ff"/>
<circle cx="33" cy="555" r="9" fill="#e0d000"/><circle cx="35" cy="553" r="6" fill="#ffff00"/>
<text x="37" y="451.5" class="a" font-size="37" fill="#2424ff" letter-spacing="0">Z</text>
<text x="126.5" y="503.5" class="a" font-size="37" fill="#22ee22" letter-spacing="0">Y</text>
<text x="126.5" y="609" class="a" font-size="37" fill="#ff2020" letter-spacing="0">X</text>
</g>
<g id="leg-a" filter="url(#bt)">
<rect x="312.3" y="99.8" width="85.7" height="2" fill="#858585"/>
<rect x="312.3" y="144" width="85.7" height="2" fill="#858585"/>
<rect x="312.3" y="188.2" width="85.7" height="2" fill="#858585"/>
<rect x="312.3" y="232.4" width="85.7" height="2" fill="#858585"/>
<rect x="312.3" y="276.6" width="85.7" height="2" fill="#858585"/>
<rect x="312.3" y="320.8" width="85.7" height="2" fill="#858585"/>
<rect x="312.3" y="365" width="85.7" height="2" fill="#858585"/>
<rect x="312.3" y="409.2" width="85.7" height="2" fill="#858585"/>
<rect x="312.3" y="453.4" width="85.7" height="2" fill="#858585"/>
<rect x="312.3" y="497.6" width="85.7" height="2" fill="#858585"/>
<rect x="312.3" y="541.8" width="85.7" height="2" fill="#858585"/>
<rect x="312.3" y="586" width="85.7" height="2" fill="#858585"/>
<rect x="312.3" y="630.2" width="85.7" height="2" fill="#858585"/>
<rect x="295.5" y="99.5" width="17.8" height="531.7" fill="#000"/>
<rect x="298" y="102" width="12.8" height="41.6" fill="#ff0000"/>
<rect x="298" y="146.3" width="12.8" height="41.6" fill="#ff5000"/>
<rect x="298" y="190.5" width="12.8" height="41.6" fill="#ffd000"/>
<rect x="298" y="234.7" width="12.8" height="41.6" fill="#ffff00"/>
<rect x="298" y="278.9" width="12.8" height="41.6" fill="#90ff00"/>
<rect x="298" y="323.1" width="12.8" height="41.6" fill="#10ff00"/>
<rect x="298" y="367.3" width="12.8" height="41.6" fill="#00ff18"/>
<rect x="298" y="411.5" width="12.8" height="41.6" fill="#00ff90"/>
<rect x="298" y="455.7" width="12.8" height="41.6" fill="#00ffff"/>
<rect x="298" y="499.9" width="12.8" height="41.6" fill="#00d0ff"/>
<rect x="298" y="544.1" width="12.8" height="41.6" fill="#0050ff"/>
<rect x="298" y="588.3" width="12.8" height="41.6" fill="#0000ff"/>
<text transform="matrix(1 0 0 1.230 334 134.5)" font-size="28.58" letter-spacing="0.90" fill="#ff0000">10.1%</text>
<text transform="matrix(1 0 0 1.230 334 178.7)" font-size="28.58" letter-spacing="0.90" fill="#ff0000">9.8%</text>
<text transform="matrix(1 0 0 1.230 334 222.9)" font-size="28.58" letter-spacing="0.90" fill="#ff0000">9.3%</text>
<text transform="matrix(1 0 0 1.230 334 267.1)" font-size="28.58" letter-spacing="0.90" fill="#ff0000">8.6%</text>
<text transform="matrix(1 0 0 1.230 334 311.3)" font-size="28.58" letter-spacing="0.90" fill="#ff0000">8.3%</text>
<text transform="matrix(1 0 0 1.230 334 355.5)" font-size="28.58" letter-spacing="0.90" fill="#ff0000">8.0%</text>
<text transform="matrix(1 0 0 1.230 334 399.7)" font-size="28.58" letter-spacing="0.90" fill="#ff0000">7.5%</text>
<text transform="matrix(1 0 0 1.230 334 443.9)" font-size="28.58" letter-spacing="0.90" fill="#ff0000">7.7%</text>
<text transform="matrix(1 0 0 1.230 334 488.1)" font-size="28.58" letter-spacing="0.90" fill="#ff0000">7.5%</text>
<text transform="matrix(1 0 0 1.230 334 532.3)" font-size="28.58" letter-spacing="0.90" fill="#ff0000">7.5%</text>
<text transform="matrix(1 0 0 1.230 334 576.5)" font-size="28.58" letter-spacing="0.90" fill="#ff0000">7.5%</text>
<text transform="matrix(1 0 0 1.230 334 620.7)" font-size="28.58" letter-spacing="0.90" fill="#ff0000">8.1%</text>
<text transform="matrix(1 0 0 1.230 401 110.7)" font-size="28.58" letter-spacing="0.90" fill="#000" stroke="#000" stroke-width="0.35">+4.23510e-001</text>
<text transform="matrix(1 0 0 1.230 401 155.2)" font-size="28.58" letter-spacing="0.90" fill="#000" stroke="#000" stroke-width="0.35">+3.33841e-001</text>
<text transform="matrix(1 0 0 1.230 401 199.8)" font-size="28.58" letter-spacing="0.90" fill="#000" stroke="#000" stroke-width="0.35">+3.13341e-001</text>
<text transform="matrix(1 0 0 1.230 401 244.3)" font-size="28.58" letter-spacing="0.90" fill="#000" stroke="#000" stroke-width="0.35">+2.94867e-001</text>
<text transform="matrix(1 0 0 1.230 401 288.9)" font-size="28.58" letter-spacing="0.90" fill="#000" stroke="#000" stroke-width="0.35">+2.76469e-001</text>
<text transform="matrix(1 0 0 1.230 401 333.4)" font-size="28.58" letter-spacing="0.90" fill="#000" stroke="#000" stroke-width="0.35">+2.58602e-001</text>
<text transform="matrix(1 0 0 1.230 401 378)" font-size="28.58" letter-spacing="0.90" fill="#000" stroke="#000" stroke-width="0.35">+2.41178e-001</text>
<text transform="matrix(1 0 0 1.230 401 422.6)" font-size="28.58" letter-spacing="0.90" fill="#000" stroke="#000" stroke-width="0.35">+2.24309e-001</text>
<text transform="matrix(1 0 0 1.230 401 467.1)" font-size="28.58" letter-spacing="0.90" fill="#000" stroke="#000" stroke-width="0.35">+2.07976e-001</text>
<text transform="matrix(1 0 0 1.230 401 511.7)" font-size="28.58" letter-spacing="0.90" fill="#000" stroke="#000" stroke-width="0.35">+1.91951e-001</text>
<text transform="matrix(1 0 0 1.230 401 556.2)" font-size="28.58" letter-spacing="0.90" fill="#000" stroke="#000" stroke-width="0.35">+1.76035e-001</text>
<text transform="matrix(1 0 0 1.230 401 600.8)" font-size="28.58" letter-spacing="0.90" fill="#000" stroke="#000" stroke-width="0.35">+1.57884e-001</text>
<text transform="matrix(1 0 0 1.230 401 645.4)" font-size="28.58" letter-spacing="0.90" fill="#000" stroke="#000" stroke-width="0.35">+1.14585e-001</text>
<text transform="matrix(1 0 0 1.110 295.8 32.1)" font-size="28.93" letter-spacing="0.91" fill="#000" stroke="#000" stroke-width="0.35">DISPLACEMENT</text>
<text transform="matrix(1 0 0 1.110 295.8 68.8)" font-size="28.93" letter-spacing="0.91" fill="#000" stroke="#000" stroke-width="0.35">TOTAL T , mm</text>
</g>
<g id="leg-b" filter="url(#bt)">
<rect x="949.5" y="105" width="83.5" height="2" fill="#858585"/>
<rect x="949.5" y="148.3" width="83.5" height="2" fill="#858585"/>
<rect x="949.5" y="191.6" width="83.5" height="2" fill="#858585"/>
<rect x="949.5" y="234.9" width="83.5" height="2" fill="#858585"/>
<rect x="949.5" y="278.2" width="83.5" height="2" fill="#858585"/>
<rect x="949.5" y="321.6" width="83.5" height="2" fill="#858585"/>
<rect x="949.5" y="364.9" width="83.5" height="2" fill="#858585"/>
<rect x="949.5" y="408.2" width="83.5" height="2" fill="#858585"/>
<rect x="949.5" y="451.5" width="83.5" height="2" fill="#858585"/>
<rect x="949.5" y="494.8" width="83.5" height="2" fill="#858585"/>
<rect x="949.5" y="538.1" width="83.5" height="2" fill="#858585"/>
<rect x="949.5" y="581.4" width="83.5" height="2" fill="#858585"/>
<rect x="949.5" y="624.8" width="83.5" height="2" fill="#858585"/>
<rect x="933" y="104.8" width="17.5" height="521" fill="#000"/>
<rect x="935.5" y="107.3" width="12.5" height="40.7" fill="#ff0000"/>
<rect x="935.5" y="150.6" width="12.5" height="40.7" fill="#ff5000"/>
<rect x="935.5" y="193.9" width="12.5" height="40.7" fill="#ffd000"/>
<rect x="935.5" y="237.2" width="12.5" height="40.7" fill="#ffff00"/>
<rect x="935.5" y="280.6" width="12.5" height="40.7" fill="#90ff00"/>
<rect x="935.5" y="323.9" width="12.5" height="40.7" fill="#10ff00"/>
<rect x="935.5" y="367.2" width="12.5" height="40.7" fill="#00ff18"/>
<rect x="935.5" y="410.5" width="12.5" height="40.7" fill="#00ff90"/>
<rect x="935.5" y="453.8" width="12.5" height="40.7" fill="#00ffff"/>
<rect x="935.5" y="497.1" width="12.5" height="40.7" fill="#00d0ff"/>
<rect x="935.5" y="540.4" width="12.5" height="40.7" fill="#0050ff"/>
<rect x="935.5" y="583.7" width="12.5" height="40.7" fill="#0000ff"/>
<text transform="matrix(1 0 0 1.230 971.9 139.3)" font-size="28.15" letter-spacing="0.89" fill="#ff0000">10.2%</text>
<text transform="matrix(1 0 0 1.230 971.9 182.6)" font-size="28.15" letter-spacing="0.89" fill="#ff0000">10.2%</text>
<text transform="matrix(1 0 0 1.230 971.9 225.9)" font-size="28.15" letter-spacing="0.89" fill="#ff0000">9.2%</text>
<text transform="matrix(1 0 0 1.230 971.9 269.2)" font-size="28.15" letter-spacing="0.89" fill="#ff0000">8.7%</text>
<text transform="matrix(1 0 0 1.230 971.9 312.5)" font-size="28.15" letter-spacing="0.89" fill="#ff0000">8.0%</text>
<text transform="matrix(1 0 0 1.230 971.9 355.8)" font-size="28.15" letter-spacing="0.89" fill="#ff0000">8.0%</text>
<text transform="matrix(1 0 0 1.230 971.9 399.1)" font-size="28.15" letter-spacing="0.89" fill="#ff0000">7.3%</text>
<text transform="matrix(1 0 0 1.230 971.9 442.4)" font-size="28.15" letter-spacing="0.89" fill="#ff0000">7.6%</text>
<text transform="matrix(1 0 0 1.230 971.9 485.8)" font-size="28.15" letter-spacing="0.89" fill="#ff0000">7.2%</text>
<text transform="matrix(1 0 0 1.230 971.9 529.1)" font-size="28.15" letter-spacing="0.89" fill="#ff0000">7.5%</text>
<text transform="matrix(1 0 0 1.230 971.9 572.4)" font-size="28.15" letter-spacing="0.89" fill="#ff0000">7.6%</text>
<text transform="matrix(1 0 0 1.230 971.9 615.7)" font-size="28.15" letter-spacing="0.89" fill="#ff0000">8.5%</text>
<text transform="matrix(1 0 0 1.230 1036.2 115.9)" font-size="28.15" letter-spacing="0.89" fill="#000" stroke="#000" stroke-width="0.35">+9.24811e-001</text>
<text transform="matrix(1 0 0 1.230 1036.2 159.6)" font-size="28.15" letter-spacing="0.89" fill="#000" stroke="#000" stroke-width="0.35">+7.22859e-001</text>
<text transform="matrix(1 0 0 1.230 1036.2 203.2)" font-size="28.15" letter-spacing="0.89" fill="#000" stroke="#000" stroke-width="0.35">+6.75506e-001</text>
<text transform="matrix(1 0 0 1.230 1036.2 246.9)" font-size="28.15" letter-spacing="0.89" fill="#000" stroke="#000" stroke-width="0.35">+6.34479e-001</text>
<text transform="matrix(1 0 0 1.230 1036.2 290.5)" font-size="28.15" letter-spacing="0.89" fill="#000" stroke="#000" stroke-width="0.35">+5.94290e-001</text>
<text transform="matrix(1 0 0 1.230 1036.2 334.2)" font-size="28.15" letter-spacing="0.89" fill="#000" stroke="#000" stroke-width="0.35">+5.55492e-001</text>
<text transform="matrix(1 0 0 1.230 1036.2 377.9)" font-size="28.15" letter-spacing="0.89" fill="#000" stroke="#000" stroke-width="0.35">+5.18054e-001</text>
<text transform="matrix(1 0 0 1.230 1036.2 421.5)" font-size="28.15" letter-spacing="0.89" fill="#000" stroke="#000" stroke-width="0.35">+4.81668e-001</text>
<text transform="matrix(1 0 0 1.230 1036.2 465.2)" font-size="28.15" letter-spacing="0.89" fill="#000" stroke="#000" stroke-width="0.35">+4.46410e-001</text>
<text transform="matrix(1 0 0 1.230 1036.2 508.9)" font-size="28.15" letter-spacing="0.89" fill="#000" stroke="#000" stroke-width="0.35">+4.11296e-001</text>
<text transform="matrix(1 0 0 1.230 1036.2 552.5)" font-size="28.15" letter-spacing="0.89" fill="#000" stroke="#000" stroke-width="0.35">+3.76050e-001</text>
<text transform="matrix(1 0 0 1.230 1036.2 596.2)" font-size="28.15" letter-spacing="0.89" fill="#000" stroke="#000" stroke-width="0.35">+3.35588e-001</text>
<text transform="matrix(1 0 0 1.230 1036.2 639.9)" font-size="28.15" letter-spacing="0.89" fill="#000" stroke="#000" stroke-width="0.35">+2.41229e-001</text>
<text transform="matrix(1 0 0 1.110 933 38.9)" font-size="28.50" letter-spacing="0.90" fill="#000" stroke="#000" stroke-width="0.35">DISPLACEMENT</text>
<text transform="matrix(1 0 0 1.110 933 75)" font-size="28.50" letter-spacing="0.90" fill="#000" stroke="#000" stroke-width="0.35">TOTAL T , mm</text>
</g>
<g id="leg-c" filter="url(#bt)">
<rect x="1587.5" y="106" width="83.5" height="2" fill="#858585"/>
<rect x="1587.5" y="149.4" width="83.5" height="2" fill="#858585"/>
<rect x="1587.5" y="192.8" width="83.5" height="2" fill="#858585"/>
<rect x="1587.5" y="236.2" width="83.5" height="2" fill="#858585"/>
<rect x="1587.5" y="279.7" width="83.5" height="2" fill="#858585"/>
<rect x="1587.5" y="323.1" width="83.5" height="2" fill="#858585"/>
<rect x="1587.5" y="366.5" width="83.5" height="2" fill="#858585"/>
<rect x="1587.5" y="409.9" width="83.5" height="2" fill="#858585"/>
<rect x="1587.5" y="453.3" width="83.5" height="2" fill="#858585"/>
<rect x="1587.5" y="496.8" width="83.5" height="2" fill="#858585"/>
<rect x="1587.5" y="540.2" width="83.5" height="2" fill="#858585"/>
<rect x="1587.5" y="583.6" width="83.5" height="2" fill="#858585"/>
<rect x="1587.5" y="627" width="83.5" height="2" fill="#858585"/>
<rect x="1571" y="105.8" width="17.5" height="522.2" fill="#000"/>
<rect x="1573.5" y="108.3" width="12.5" height="40.8" fill="#ff0000"/>
<rect x="1573.5" y="151.7" width="12.5" height="40.8" fill="#ff5000"/>
<rect x="1573.5" y="195.1" width="12.5" height="40.8" fill="#ffd000"/>
<rect x="1573.5" y="238.6" width="12.5" height="40.8" fill="#ffff00"/>
<rect x="1573.5" y="282" width="12.5" height="40.8" fill="#90ff00"/>
<rect x="1573.5" y="325.4" width="12.5" height="40.8" fill="#10ff00"/>
<rect x="1573.5" y="368.8" width="12.5" height="40.8" fill="#00ff18"/>
<rect x="1573.5" y="412.2" width="12.5" height="40.8" fill="#00ff90"/>
<rect x="1573.5" y="455.6" width="12.5" height="40.8" fill="#00ffff"/>
<rect x="1573.5" y="499.1" width="12.5" height="40.8" fill="#00d0ff"/>
<rect x="1573.5" y="542.5" width="12.5" height="40.8" fill="#0050ff"/>
<rect x="1573.5" y="585.9" width="12.5" height="40.8" fill="#0000ff"/>
<text transform="matrix(1 0 0 1.230 1609.2 140.3)" font-size="28.02" letter-spacing="0.89" fill="#ff0000">10.8%</text>
<text transform="matrix(1 0 0 1.230 1609.2 183.7)" font-size="28.02" letter-spacing="0.89" fill="#ff0000">10.0%</text>
<text transform="matrix(1 0 0 1.230 1609.2 227.1)" font-size="28.02" letter-spacing="0.89" fill="#ff0000">10.0%</text>
<text transform="matrix(1 0 0 1.230 1609.2 270.6)" font-size="28.02" letter-spacing="0.89" fill="#ff0000">8.6%</text>
<text transform="matrix(1 0 0 1.230 1609.2 314)" font-size="28.02" letter-spacing="0.89" fill="#ff0000">8.7%</text>
<text transform="matrix(1 0 0 1.230 1609.2 357.4)" font-size="28.02" letter-spacing="0.89" fill="#ff0000">7.6%</text>
<text transform="matrix(1 0 0 1.230 1609.2 400.8)" font-size="28.02" letter-spacing="0.89" fill="#ff0000">7.6%</text>
<text transform="matrix(1 0 0 1.230 1609.2 444.2)" font-size="28.02" letter-spacing="0.89" fill="#ff0000">7.3%</text>
<text transform="matrix(1 0 0 1.230 1609.2 487.6)" font-size="28.02" letter-spacing="0.89" fill="#ff0000">7.6%</text>
<text transform="matrix(1 0 0 1.230 1609.2 531.1)" font-size="28.02" letter-spacing="0.89" fill="#ff0000">7.1%</text>
<text transform="matrix(1 0 0 1.230 1609.2 574.5)" font-size="28.02" letter-spacing="0.89" fill="#ff0000">7.2%</text>
<text transform="matrix(1 0 0 1.230 1609.2 617.9)" font-size="28.02" letter-spacing="0.89" fill="#ff0000">7.6%</text>
<text transform="matrix(1 0 0 1.230 1674.7 116.9)" font-size="28.02" letter-spacing="0.89" fill="#000" stroke="#000" stroke-width="0.35">+1.65752e+000</text>
<text transform="matrix(1 0 0 1.230 1674.7 160.7)" font-size="28.02" letter-spacing="0.89" fill="#000" stroke="#000" stroke-width="0.35">+1.35257e+000</text>
<text transform="matrix(1 0 0 1.230 1674.7 204.4)" font-size="28.02" letter-spacing="0.89" fill="#000" stroke="#000" stroke-width="0.35">+1.27308e+000</text>
<text transform="matrix(1 0 0 1.230 1674.7 248.2)" font-size="28.02" letter-spacing="0.89" fill="#000" stroke="#000" stroke-width="0.35">+1.20982e+000</text>
<text transform="matrix(1 0 0 1.230 1674.7 292)" font-size="28.02" letter-spacing="0.89" fill="#000" stroke="#000" stroke-width="0.35">+1.14839e+000</text>
<text transform="matrix(1 0 0 1.230 1674.7 335.7)" font-size="28.02" letter-spacing="0.89" fill="#000" stroke="#000" stroke-width="0.35">+1.08762e+000</text>
<text transform="matrix(1 0 0 1.230 1674.7 379.5)" font-size="28.02" letter-spacing="0.89" fill="#000" stroke="#000" stroke-width="0.35">+1.02728e+000</text>
<text transform="matrix(1 0 0 1.230 1674.7 423.3)" font-size="28.02" letter-spacing="0.89" fill="#000" stroke="#000" stroke-width="0.35">+9.68205e-001</text>
<text transform="matrix(1 0 0 1.230 1674.7 467)" font-size="28.02" letter-spacing="0.89" fill="#000" stroke="#000" stroke-width="0.35">+9.09431e-001</text>
<text transform="matrix(1 0 0 1.230 1674.7 510.8)" font-size="28.02" letter-spacing="0.89" fill="#000" stroke="#000" stroke-width="0.35">+8.50378e-001</text>
<text transform="matrix(1 0 0 1.230 1674.7 554.6)" font-size="28.02" letter-spacing="0.89" fill="#000" stroke="#000" stroke-width="0.35">+7.87165e-001</text>
<text transform="matrix(1 0 0 1.230 1674.7 598.3)" font-size="28.02" letter-spacing="0.89" fill="#000" stroke="#000" stroke-width="0.35">+7.06663e-001</text>
<text transform="matrix(1 0 0 1.230 1674.7 642.1)" font-size="28.02" letter-spacing="0.89" fill="#000" stroke="#000" stroke-width="0.35">+5.18660e-001</text>
<text transform="matrix(1 0 0 1.110 1571 38.9)" font-size="28.37" letter-spacing="0.90" fill="#000" stroke="#000" stroke-width="0.35">DISPLACEMENT</text>
<text transform="matrix(1 0 0 1.110 1571 75)" font-size="28.37" letter-spacing="0.90" fill="#000" stroke="#000" stroke-width="0.35">TOTAL T , mm</text>
</g>
<g id="leg-d" filter="url(#bt)">
<rect x="307.8" y="909.5" width="84" height="2" fill="#858585"/>
<rect x="307.8" y="952.9" width="84" height="2" fill="#858585"/>
<rect x="307.8" y="996.3" width="84" height="2" fill="#858585"/>
<rect x="307.8" y="1039.7" width="84" height="2" fill="#858585"/>
<rect x="307.8" y="1083.1" width="84" height="2" fill="#858585"/>
<rect x="307.8" y="1126.5" width="84" height="2" fill="#858585"/>
<rect x="307.8" y="1169.9" width="84" height="2" fill="#858585"/>
<rect x="307.8" y="1213.3" width="84" height="2" fill="#858585"/>
<rect x="307.8" y="1256.7" width="84" height="2" fill="#858585"/>
<rect x="307.8" y="1300.1" width="84" height="2" fill="#858585"/>
<rect x="307.8" y="1343.5" width="84" height="2" fill="#858585"/>
<rect x="307.8" y="1386.9" width="84" height="2" fill="#858585"/>
<rect x="307.8" y="1430.2" width="84" height="2" fill="#858585"/>
<rect x="291.8" y="909.3" width="17" height="522" fill="#000"/>
<rect x="294.2" y="911.8" width="12" height="40.8" fill="#ff0000"/>
<rect x="294.2" y="955.2" width="12" height="40.8" fill="#ff5000"/>
<rect x="294.2" y="998.6" width="12" height="40.8" fill="#ffd000"/>
<rect x="294.2" y="1042" width="12" height="40.8" fill="#ffff00"/>
<rect x="294.2" y="1085.4" width="12" height="40.8" fill="#90ff00"/>
<rect x="294.2" y="1128.8" width="12" height="40.8" fill="#10ff00"/>
<rect x="294.2" y="1172.2" width="12" height="40.8" fill="#00ff18"/>
<rect x="294.2" y="1215.6" width="12" height="40.8" fill="#00ff90"/>
<rect x="294.2" y="1259" width="12" height="40.8" fill="#00ffff"/>
<rect x="294.2" y="1302.4" width="12" height="40.8" fill="#00d0ff"/>
<rect x="294.2" y="1345.8" width="12" height="40.8" fill="#0050ff"/>
<rect x="294.2" y="1389.2" width="12" height="40.8" fill="#0000ff"/>
<text transform="matrix(1 0 0 1.230 330.7 943.8)" font-size="27.87" letter-spacing="0.88" fill="#ff0000">9.2%</text>
<text transform="matrix(1 0 0 1.230 330.7 987.2)" font-size="27.87" letter-spacing="0.88" fill="#ff0000">9.5%</text>
<text transform="matrix(1 0 0 1.230 330.7 1030.6)" font-size="27.87" letter-spacing="0.88" fill="#ff0000">9.2%</text>
<text transform="matrix(1 0 0 1.230 330.7 1074)" font-size="27.87" letter-spacing="0.88" fill="#ff0000">9.5%</text>
<text transform="matrix(1 0 0 1.230 330.7 1117.4)" font-size="27.87" letter-spacing="0.88" fill="#ff0000">9.1%</text>
<text transform="matrix(1 0 0 1.230 330.7 1160.8)" font-size="27.87" letter-spacing="0.88" fill="#ff0000">8.2%</text>
<text transform="matrix(1 0 0 1.230 330.7 1204.2)" font-size="27.87" letter-spacing="0.88" fill="#ff0000">7.6%</text>
<text transform="matrix(1 0 0 1.230 330.7 1247.6)" font-size="27.87" letter-spacing="0.88" fill="#ff0000">7.9%</text>
<text transform="matrix(1 0 0 1.230 330.7 1291)" font-size="27.87" letter-spacing="0.88" fill="#ff0000">7.3%</text>
<text transform="matrix(1 0 0 1.230 330.7 1334.4)" font-size="27.87" letter-spacing="0.88" fill="#ff0000">7.4%</text>
<text transform="matrix(1 0 0 1.230 330.7 1377.8)" font-size="27.87" letter-spacing="0.88" fill="#ff0000">7.7%</text>
<text transform="matrix(1 0 0 1.230 330.7 1421.2)" font-size="27.87" letter-spacing="0.88" fill="#ff0000">7.5%</text>
<text transform="matrix(1 0 0 1.230 395.5 920.4)" font-size="27.87" letter-spacing="0.88" fill="#000" stroke="#000" stroke-width="0.35">+2.57651e+000</text>
<text transform="matrix(1 0 0 1.230 395.5 964.1)" font-size="27.87" letter-spacing="0.88" fill="#000" stroke="#000" stroke-width="0.35">+2.02343e+000</text>
<text transform="matrix(1 0 0 1.230 395.5 1007.9)" font-size="27.87" letter-spacing="0.88" fill="#000" stroke="#000" stroke-width="0.35">+1.92382e+000</text>
<text transform="matrix(1 0 0 1.230 395.5 1051.6)" font-size="27.87" letter-spacing="0.88" fill="#000" stroke="#000" stroke-width="0.35">+1.84651e+000</text>
<text transform="matrix(1 0 0 1.230 395.5 1095.4)" font-size="27.87" letter-spacing="0.88" fill="#000" stroke="#000" stroke-width="0.35">+1.78014e+000</text>
<text transform="matrix(1 0 0 1.230 395.5 1139.1)" font-size="27.87" letter-spacing="0.88" fill="#000" stroke="#000" stroke-width="0.35">+1.71931e+000</text>
<text transform="matrix(1 0 0 1.230 395.5 1182.9)" font-size="27.87" letter-spacing="0.88" fill="#000" stroke="#000" stroke-width="0.35">+1.65533e+000</text>
<text transform="matrix(1 0 0 1.230 395.5 1226.6)" font-size="27.87" letter-spacing="0.88" fill="#000" stroke="#000" stroke-width="0.35">+1.58970e+000</text>
<text transform="matrix(1 0 0 1.230 395.5 1270.4)" font-size="27.87" letter-spacing="0.88" fill="#000" stroke="#000" stroke-width="0.35">+1.52285e+000</text>
<text transform="matrix(1 0 0 1.230 395.5 1314.1)" font-size="27.87" letter-spacing="0.88" fill="#000" stroke="#000" stroke-width="0.35">+1.45368e+000</text>
<text transform="matrix(1 0 0 1.230 395.5 1357.9)" font-size="27.87" letter-spacing="0.88" fill="#000" stroke="#000" stroke-width="0.35">+1.37473e+000</text>
<text transform="matrix(1 0 0 1.230 395.5 1401.6)" font-size="27.87" letter-spacing="0.88" fill="#000" stroke="#000" stroke-width="0.35">+1.26894e+000</text>
<text transform="matrix(1 0 0 1.230 395.5 1445.4)" font-size="27.87" letter-spacing="0.88" fill="#000" stroke="#000" stroke-width="0.35">+1.02185e+000</text>
<text transform="matrix(1 0 0 1.110 292.5 843.9)" font-size="28.21" letter-spacing="0.89" fill="#000" stroke="#000" stroke-width="0.35">DISPLACEMENT</text>
<text transform="matrix(1 0 0 1.110 292.5 880)" font-size="28.21" letter-spacing="0.89" fill="#000" stroke="#000" stroke-width="0.35">TOTAL T , mm</text>
</g>
<g id="leg-e" filter="url(#bt)">
<rect x="942.2" y="902.8" width="86.5" height="2" fill="#858585"/>
<rect x="942.2" y="947.2" width="86.5" height="2" fill="#858585"/>
<rect x="942.2" y="991.7" width="86.5" height="2" fill="#858585"/>
<rect x="942.2" y="1036.2" width="86.5" height="2" fill="#858585"/>
<rect x="942.2" y="1080.7" width="86.5" height="2" fill="#858585"/>
<rect x="942.2" y="1125.1" width="86.5" height="2" fill="#858585"/>
<rect x="942.2" y="1169.6" width="86.5" height="2" fill="#858585"/>
<rect x="942.2" y="1214.1" width="86.5" height="2" fill="#858585"/>
<rect x="942.2" y="1258.6" width="86.5" height="2" fill="#858585"/>
<rect x="942.2" y="1303.1" width="86.5" height="2" fill="#858585"/>
<rect x="942.2" y="1347.5" width="86.5" height="2" fill="#858585"/>
<rect x="942.2" y="1392" width="86.5" height="2" fill="#858585"/>
<rect x="942.2" y="1436.5" width="86.5" height="2" fill="#858585"/>
<rect x="925.5" y="902.5" width="17.8" height="535" fill="#000"/>
<rect x="928" y="905" width="12.8" height="41.9" fill="#ff0000"/>
<rect x="928" y="949.5" width="12.8" height="41.9" fill="#ff5000"/>
<rect x="928" y="994" width="12.8" height="41.9" fill="#ffd000"/>
<rect x="928" y="1038.5" width="12.8" height="41.9" fill="#ffff00"/>
<rect x="928" y="1083" width="12.8" height="41.9" fill="#90ff00"/>
<rect x="928" y="1127.4" width="12.8" height="41.9" fill="#10ff00"/>
<rect x="928" y="1171.9" width="12.8" height="41.9" fill="#00ff18"/>
<rect x="928" y="1216.4" width="12.8" height="41.9" fill="#00ff90"/>
<rect x="928" y="1260.9" width="12.8" height="41.9" fill="#00ffff"/>
<rect x="928" y="1305.4" width="12.8" height="41.9" fill="#00d0ff"/>
<rect x="928" y="1349.8" width="12.8" height="41.9" fill="#0050ff"/>
<rect x="928" y="1394.3" width="12.8" height="41.9" fill="#0000ff"/>
<text transform="matrix(1 0 0 1.230 964.8 937.6)" font-size="28.66" letter-spacing="0.91" fill="#ff0000">6.6%</text>
<text transform="matrix(1 0 0 1.230 964.8 982.1)" font-size="28.66" letter-spacing="0.91" fill="#ff0000">9.5%</text>
<text transform="matrix(1 0 0 1.230 964.8 1026.5)" font-size="28.66" letter-spacing="0.91" fill="#ff0000">8.8%</text>
<text transform="matrix(1 0 0 1.230 964.8 1071)" font-size="28.66" letter-spacing="0.91" fill="#ff0000">8.7%</text>
<text transform="matrix(1 0 0 1.230 964.8 1115.5)" font-size="28.66" letter-spacing="0.91" fill="#ff0000">8.9%</text>
<text transform="matrix(1 0 0 1.230 964.8 1160)" font-size="28.66" letter-spacing="0.91" fill="#ff0000">8.6%</text>
<text transform="matrix(1 0 0 1.230 964.8 1204.5)" font-size="28.66" letter-spacing="0.91" fill="#ff0000">8.5%</text>
<text transform="matrix(1 0 0 1.230 964.8 1248.9)" font-size="28.66" letter-spacing="0.91" fill="#ff0000">8.6%</text>
<text transform="matrix(1 0 0 1.230 964.8 1293.4)" font-size="28.66" letter-spacing="0.91" fill="#ff0000">8.0%</text>
<text transform="matrix(1 0 0 1.230 964.8 1337.9)" font-size="28.66" letter-spacing="0.91" fill="#ff0000">7.9%</text>
<text transform="matrix(1 0 0 1.230 964.8 1382.4)" font-size="28.66" letter-spacing="0.91" fill="#ff0000">7.9%</text>
<text transform="matrix(1 0 0 1.230 964.8 1426.9)" font-size="28.66" letter-spacing="0.91" fill="#ff0000">8.1%</text>
<text transform="matrix(1 0 0 1.230 1032 913.6)" font-size="28.66" letter-spacing="0.91" fill="#000" stroke="#000" stroke-width="0.35">+3.28906e+000</text>
<text transform="matrix(1 0 0 1.230 1032 958.5)" font-size="28.66" letter-spacing="0.91" fill="#000" stroke="#000" stroke-width="0.35">+2.49424e+000</text>
<text transform="matrix(1 0 0 1.230 1032 1003.3)" font-size="28.66" letter-spacing="0.91" fill="#000" stroke="#000" stroke-width="0.35">+2.38669e+000</text>
<text transform="matrix(1 0 0 1.230 1032 1048.1)" font-size="28.66" letter-spacing="0.91" fill="#000" stroke="#000" stroke-width="0.35">+2.30078e+000</text>
<text transform="matrix(1 0 0 1.230 1032 1093)" font-size="28.66" letter-spacing="0.91" fill="#000" stroke="#000" stroke-width="0.35">+2.22721e+000</text>
<text transform="matrix(1 0 0 1.230 1032 1137.8)" font-size="28.66" letter-spacing="0.91" fill="#000" stroke="#000" stroke-width="0.35">+2.16134e+000</text>
<text transform="matrix(1 0 0 1.230 1032 1182.6)" font-size="28.66" letter-spacing="0.91" fill="#000" stroke="#000" stroke-width="0.35">+2.09947e+000</text>
<text transform="matrix(1 0 0 1.230 1032 1227.5)" font-size="28.66" letter-spacing="0.91" fill="#000" stroke="#000" stroke-width="0.35">+2.03669e+000</text>
<text transform="matrix(1 0 0 1.230 1032 1272.3)" font-size="28.66" letter-spacing="0.91" fill="#000" stroke="#000" stroke-width="0.35">+1.96887e+000</text>
<text transform="matrix(1 0 0 1.230 1032 1317.1)" font-size="28.66" letter-spacing="0.91" fill="#000" stroke="#000" stroke-width="0.35">+1.89556e+000</text>
<text transform="matrix(1 0 0 1.230 1032 1361.9)" font-size="28.66" letter-spacing="0.91" fill="#000" stroke="#000" stroke-width="0.35">+1.80965e+000</text>
<text transform="matrix(1 0 0 1.230 1032 1406.8)" font-size="28.66" letter-spacing="0.91" fill="#000" stroke="#000" stroke-width="0.35">+1.69419e+000</text>
<text transform="matrix(1 0 0 1.230 1032 1451.6)" font-size="28.66" letter-spacing="0.91" fill="#000" stroke="#000" stroke-width="0.35">+1.41300e+000</text>
<text transform="matrix(1 0 0 1.110 926 835.1)" font-size="29.01" letter-spacing="0.92" fill="#000" stroke="#000" stroke-width="0.35">DISPLACEMENT</text>
<text transform="matrix(1 0 0 1.110 926 872)" font-size="29.01" letter-spacing="0.92" fill="#000" stroke="#000" stroke-width="0.35">TOTAL T , mm</text>
</g>
<g id="leg-f" filter="url(#bt)">
<rect x="1586.8" y="901.5" width="84.2" height="2" fill="#858585"/>
<rect x="1586.8" y="945.1" width="84.2" height="2" fill="#858585"/>
<rect x="1586.8" y="988.8" width="84.2" height="2" fill="#858585"/>
<rect x="1586.8" y="1032.4" width="84.2" height="2" fill="#858585"/>
<rect x="1586.8" y="1076.1" width="84.2" height="2" fill="#858585"/>
<rect x="1586.8" y="1119.7" width="84.2" height="2" fill="#858585"/>
<rect x="1586.8" y="1163.4" width="84.2" height="2" fill="#858585"/>
<rect x="1586.8" y="1207" width="84.2" height="2" fill="#858585"/>
<rect x="1586.8" y="1250.7" width="84.2" height="2" fill="#858585"/>
<rect x="1586.8" y="1294.3" width="84.2" height="2" fill="#858585"/>
<rect x="1586.8" y="1338" width="84.2" height="2" fill="#858585"/>
<rect x="1586.8" y="1381.6" width="84.2" height="2" fill="#858585"/>
<rect x="1586.8" y="1425.2" width="84.2" height="2" fill="#858585"/>
<rect x="1570.2" y="901.3" width="17.5" height="525" fill="#000"/>
<rect x="1572.8" y="903.8" width="12.5" height="41" fill="#ff0000"/>
<rect x="1572.8" y="947.4" width="12.5" height="41" fill="#ff5000"/>
<rect x="1572.8" y="991.1" width="12.5" height="41" fill="#ffd000"/>
<rect x="1572.8" y="1034.7" width="12.5" height="41" fill="#ffff00"/>
<rect x="1572.8" y="1078.4" width="12.5" height="41" fill="#90ff00"/>
<rect x="1572.8" y="1122" width="12.5" height="41" fill="#10ff00"/>
<rect x="1572.8" y="1165.7" width="12.5" height="41" fill="#00ff18"/>
<rect x="1572.8" y="1209.3" width="12.5" height="41" fill="#00ff90"/>
<rect x="1572.8" y="1253" width="12.5" height="41" fill="#00ffff"/>
<rect x="1572.8" y="1296.6" width="12.5" height="41" fill="#00d0ff"/>
<rect x="1572.8" y="1340.3" width="12.5" height="41" fill="#0050ff"/>
<rect x="1572.8" y="1383.9" width="12.5" height="41" fill="#0000ff"/>
<text transform="matrix(1 0 0 1.230 1609.2 935.9)" font-size="28.06" letter-spacing="0.89" fill="#ff0000">6.0%</text>
<text transform="matrix(1 0 0 1.230 1609.2 979.6)" font-size="28.06" letter-spacing="0.89" fill="#ff0000">8.8%</text>
<text transform="matrix(1 0 0 1.230 1609.2 1023.2)" font-size="28.06" letter-spacing="0.89" fill="#ff0000">8.8%</text>
<text transform="matrix(1 0 0 1.230 1609.2 1066.9)" font-size="28.06" letter-spacing="0.89" fill="#ff0000">8.7%</text>
<text transform="matrix(1 0 0 1.230 1609.2 1110.5)" font-size="28.06" letter-spacing="0.89" fill="#ff0000">8.7%</text>
<text transform="matrix(1 0 0 1.230 1609.2 1154.2)" font-size="28.06" letter-spacing="0.89" fill="#ff0000">8.5%</text>
<text transform="matrix(1 0 0 1.230 1609.2 1197.8)" font-size="28.06" letter-spacing="0.89" fill="#ff0000">8.5%</text>
<text transform="matrix(1 0 0 1.230 1609.2 1241.4)" font-size="28.06" letter-spacing="0.89" fill="#ff0000">8.7%</text>
<text transform="matrix(1 0 0 1.230 1609.2 1285.1)" font-size="28.06" letter-spacing="0.89" fill="#ff0000">8.3%</text>
<text transform="matrix(1 0 0 1.230 1609.2 1328.7)" font-size="28.06" letter-spacing="0.89" fill="#ff0000">8.4%</text>
<text transform="matrix(1 0 0 1.230 1609.2 1372.4)" font-size="28.06" letter-spacing="0.89" fill="#ff0000">8.5%</text>
<text transform="matrix(1 0 0 1.230 1609.2 1416)" font-size="28.06" letter-spacing="0.89" fill="#ff0000">8.1%</text>
<text transform="matrix(1 0 0 1.230 1673.9 912.4)" font-size="28.06" letter-spacing="0.89" fill="#000" stroke="#000" stroke-width="0.35">+3.81749e+000</text>
<text transform="matrix(1 0 0 1.230 1673.9 956.4)" font-size="28.06" letter-spacing="0.89" fill="#000" stroke="#000" stroke-width="0.35">+2.89441e+000</text>
<text transform="matrix(1 0 0 1.230 1673.9 1000.4)" font-size="28.06" letter-spacing="0.89" fill="#000" stroke="#000" stroke-width="0.35">+2.79411e+000</text>
<text transform="matrix(1 0 0 1.230 1673.9 1044.4)" font-size="28.06" letter-spacing="0.89" fill="#000" stroke="#000" stroke-width="0.35">+2.71305e+000</text>
<text transform="matrix(1 0 0 1.230 1673.9 1088.4)" font-size="28.06" letter-spacing="0.89" fill="#000" stroke="#000" stroke-width="0.35">+2.64326e+000</text>
<text transform="matrix(1 0 0 1.230 1673.9 1132.4)" font-size="28.06" letter-spacing="0.89" fill="#000" stroke="#000" stroke-width="0.35">+2.58139e+000</text>
<text transform="matrix(1 0 0 1.230 1673.9 1176.4)" font-size="28.06" letter-spacing="0.89" fill="#000" stroke="#000" stroke-width="0.35">+2.52041e+000</text>
<text transform="matrix(1 0 0 1.230 1673.9 1220.4)" font-size="28.06" letter-spacing="0.89" fill="#000" stroke="#000" stroke-width="0.35">+2.45847e+000</text>
<text transform="matrix(1 0 0 1.230 1673.9 1264.4)" font-size="28.06" letter-spacing="0.89" fill="#000" stroke="#000" stroke-width="0.35">+2.39380e+000</text>
<text transform="matrix(1 0 0 1.230 1673.9 1308.4)" font-size="28.06" letter-spacing="0.89" fill="#000" stroke="#000" stroke-width="0.35">+2.31920e+000</text>
<text transform="matrix(1 0 0 1.230 1673.9 1352.4)" font-size="28.06" letter-spacing="0.89" fill="#000" stroke="#000" stroke-width="0.35">+2.23434e+000</text>
<text transform="matrix(1 0 0 1.230 1673.9 1396.4)" font-size="28.06" letter-spacing="0.89" fill="#000" stroke="#000" stroke-width="0.35">+2.11980e+000</text>
<text transform="matrix(1 0 0 1.230 1673.9 1440.4)" font-size="28.06" letter-spacing="0.89" fill="#000" stroke="#000" stroke-width="0.35">+1.74207e+000</text>
<text transform="matrix(1 0 0 1.110 1571 834.6)" font-size="28.40" letter-spacing="0.90" fill="#000" stroke="#000" stroke-width="0.35">DISPLACEMENT</text>
<text transform="matrix(1 0 0 1.110 1571 872)" font-size="28.40" letter-spacing="0.90" fill="#000" stroke="#000" stroke-width="0.35">TOTAL T , mm</text>
</g>
<text class="s" x="629.5" y="748" text-anchor="middle" font-size="44.5" letter-spacing="2" fill="#111">(a)</text>
<text class="s" x="979.6" y="748" text-anchor="middle" font-size="44.5" letter-spacing="2" fill="#111">(b)</text>
<text class="s" x="1295.5" y="748" text-anchor="middle" font-size="44.5" letter-spacing="2" fill="#111">(c)</text>
<text class="s" x="628" y="1550.6" text-anchor="middle" font-size="44.5" letter-spacing="2" fill="#111">(d)</text>
<text class="s" x="978.6" y="1550.6" text-anchor="middle" font-size="44.5" letter-spacing="2" fill="#111">(e)</text>
<text class="s" x="1302" y="1550.6" text-anchor="middle" font-size="44.5" letter-spacing="2" fill="#111">(f)</text>
</svg></body></html>
